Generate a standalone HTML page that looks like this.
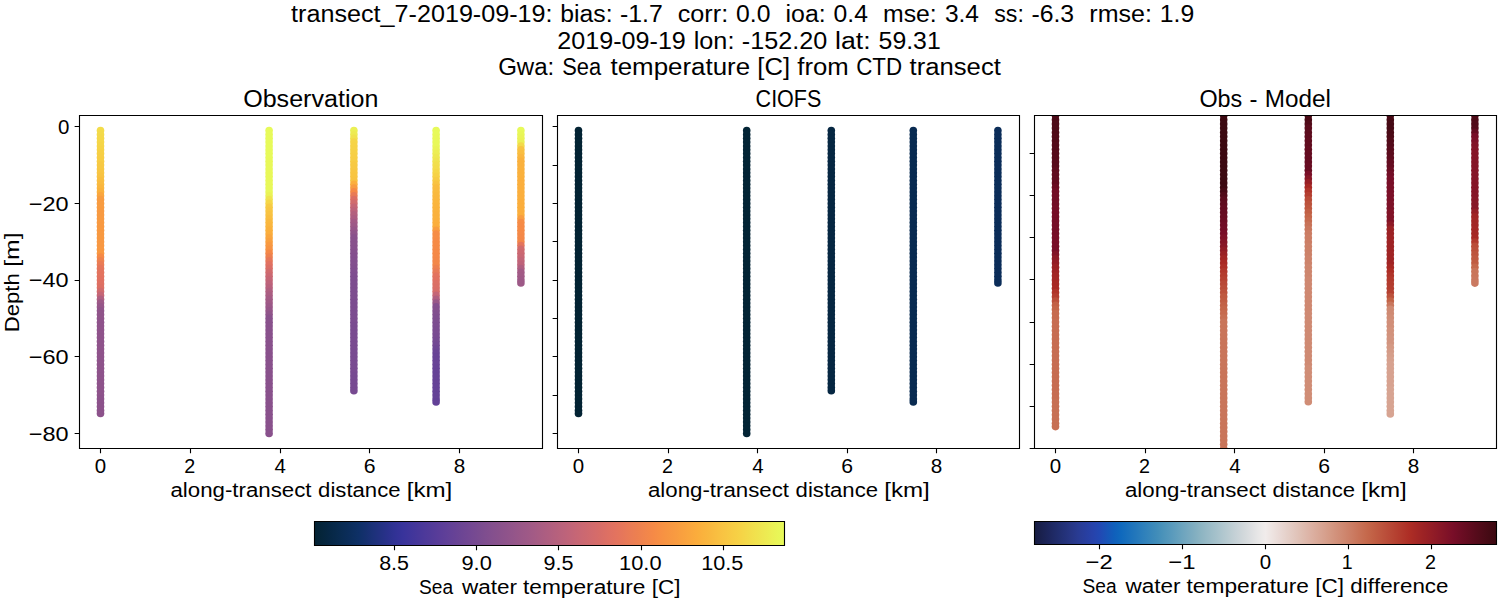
<!DOCTYPE html>
<html><head><meta charset="utf-8"><title>transect plot</title>
<style>html,body{margin:0;padding:0;background:#fff;overflow:hidden;width:1500px;height:600px;}svg{display:block;}</style>
</head><body>
<svg width="1500" height="600" viewBox="0 0 1500 600">
<rect width="1500" height="600" fill="#fff"/>
<defs>
<clipPath id="c0"><rect x="79.5" y="115.5" width="463.0" height="333.0"/></clipPath>
<clipPath id="c1"><rect x="557.5" y="115.5" width="462.0" height="333.0"/></clipPath>
<clipPath id="c2"><rect x="1034.5" y="115.5" width="462.0" height="333.0"/></clipPath>
<linearGradient id="g0" x1="0" x2="1" y1="0" y2="0"><stop offset="0.0000" stop-color="#032333"/><stop offset="0.0156" stop-color="#05253b"/><stop offset="0.0312" stop-color="#062744"/><stop offset="0.0469" stop-color="#082a4c"/><stop offset="0.0625" stop-color="#0a2c55"/><stop offset="0.0781" stop-color="#0c2e5d"/><stop offset="0.0938" stop-color="#0e3066"/><stop offset="0.1094" stop-color="#15306f"/><stop offset="0.1250" stop-color="#1c3179"/><stop offset="0.1406" stop-color="#233182"/><stop offset="0.1562" stop-color="#2a318c"/><stop offset="0.1719" stop-color="#313295"/><stop offset="0.1875" stop-color="#38339b"/><stop offset="0.2031" stop-color="#3f359b"/><stop offset="0.2188" stop-color="#46379a"/><stop offset="0.2344" stop-color="#4d399a"/><stop offset="0.2500" stop-color="#533b99"/><stop offset="0.2656" stop-color="#5a3d99"/><stop offset="0.2812" stop-color="#604098"/><stop offset="0.2969" stop-color="#664296"/><stop offset="0.3125" stop-color="#6c4594"/><stop offset="0.3281" stop-color="#724793"/><stop offset="0.3438" stop-color="#774a91"/><stop offset="0.3594" stop-color="#7d4d8f"/><stop offset="0.3750" stop-color="#834f8e"/><stop offset="0.3906" stop-color="#88518c"/><stop offset="0.4062" stop-color="#8e538b"/><stop offset="0.4219" stop-color="#93558a"/><stop offset="0.4375" stop-color="#995788"/><stop offset="0.4531" stop-color="#9e5987"/><stop offset="0.4688" stop-color="#a45b85"/><stop offset="0.4844" stop-color="#aa5d82"/><stop offset="0.5000" stop-color="#b05f80"/><stop offset="0.5156" stop-color="#b6617d"/><stop offset="0.5312" stop-color="#bc637b"/><stop offset="0.5469" stop-color="#c26578"/><stop offset="0.5625" stop-color="#c86774"/><stop offset="0.5781" stop-color="#cd6970"/><stop offset="0.5938" stop-color="#d36b6c"/><stop offset="0.6094" stop-color="#d86d67"/><stop offset="0.6250" stop-color="#de7063"/><stop offset="0.6406" stop-color="#e3735f"/><stop offset="0.6562" stop-color="#e6775a"/><stop offset="0.6719" stop-color="#ea7c55"/><stop offset="0.6875" stop-color="#ed8050"/><stop offset="0.7031" stop-color="#f1854c"/><stop offset="0.7188" stop-color="#f58947"/><stop offset="0.7344" stop-color="#f78f44"/><stop offset="0.7500" stop-color="#f79542"/><stop offset="0.7656" stop-color="#f89a41"/><stop offset="0.7812" stop-color="#f9a03f"/><stop offset="0.7969" stop-color="#faa63e"/><stop offset="0.8125" stop-color="#fbac3c"/><stop offset="0.8281" stop-color="#fab33d"/><stop offset="0.8438" stop-color="#f9b93f"/><stop offset="0.8594" stop-color="#f9c041"/><stop offset="0.8750" stop-color="#f8c643"/><stop offset="0.8906" stop-color="#f7cd44"/><stop offset="0.9062" stop-color="#f6d346"/><stop offset="0.9219" stop-color="#f3da4a"/><stop offset="0.9375" stop-color="#f1e14d"/><stop offset="0.9531" stop-color="#eee751"/><stop offset="0.9688" stop-color="#ecee54"/><stop offset="0.9844" stop-color="#e9f557"/><stop offset="1.0000" stop-color="#e7fa5a"/></linearGradient>
<linearGradient id="g1" x1="0" x2="1" y1="0" y2="0"><stop offset="0.0000" stop-color="#171c42"/><stop offset="0.0156" stop-color="#1a214f"/><stop offset="0.0312" stop-color="#1d265d"/><stop offset="0.0469" stop-color="#202c6a"/><stop offset="0.0625" stop-color="#233177"/><stop offset="0.0781" stop-color="#273684"/><stop offset="0.0938" stop-color="#293b92"/><stop offset="0.1094" stop-color="#283e9e"/><stop offset="0.1250" stop-color="#2742aa"/><stop offset="0.1406" stop-color="#2248b3"/><stop offset="0.1562" stop-color="#1954b7"/><stop offset="0.1719" stop-color="#105fbb"/><stop offset="0.1875" stop-color="#0f69bd"/><stop offset="0.2031" stop-color="#1970bc"/><stop offset="0.2188" stop-color="#2377bb"/><stop offset="0.2344" stop-color="#2d7fbb"/><stop offset="0.2500" stop-color="#3786ba"/><stop offset="0.2656" stop-color="#418db9"/><stop offset="0.2812" stop-color="#4d94ba"/><stop offset="0.2969" stop-color="#599abc"/><stop offset="0.3125" stop-color="#66a1bd"/><stop offset="0.3281" stop-color="#73a7bf"/><stop offset="0.3438" stop-color="#7fadc0"/><stop offset="0.3594" stop-color="#8cb4c2"/><stop offset="0.3750" stop-color="#98bac6"/><stop offset="0.3906" stop-color="#a3c0ca"/><stop offset="0.4062" stop-color="#afc6ce"/><stop offset="0.4219" stop-color="#bbccd2"/><stop offset="0.4375" stop-color="#c7d2d7"/><stop offset="0.4531" stop-color="#d2d8db"/><stop offset="0.4688" stop-color="#dddfe1"/><stop offset="0.4844" stop-color="#e8e7e7"/><stop offset="0.5000" stop-color="#f1eceb"/><stop offset="0.5156" stop-color="#ede3e0"/><stop offset="0.5312" stop-color="#e9d9d5"/><stop offset="0.5469" stop-color="#e5d0c9"/><stop offset="0.5625" stop-color="#e2c7be"/><stop offset="0.5781" stop-color="#dfbeb2"/><stop offset="0.5938" stop-color="#ddb4a7"/><stop offset="0.6094" stop-color="#daab9b"/><stop offset="0.6250" stop-color="#d7a290"/><stop offset="0.6406" stop-color="#d49984"/><stop offset="0.6562" stop-color="#d18f79"/><stop offset="0.6719" stop-color="#ce866e"/><stop offset="0.6875" stop-color="#cb7c63"/><stop offset="0.7031" stop-color="#c87257"/><stop offset="0.7188" stop-color="#c5694c"/><stop offset="0.7344" stop-color="#c15f44"/><stop offset="0.7500" stop-color="#bd553e"/><stop offset="0.7656" stop-color="#b94b38"/><stop offset="0.7812" stop-color="#b54131"/><stop offset="0.7969" stop-color="#b1372b"/><stop offset="0.8125" stop-color="#ad2d25"/><stop offset="0.8281" stop-color="#a42725"/><stop offset="0.8438" stop-color="#9b2225"/><stop offset="0.8594" stop-color="#931d26"/><stop offset="0.8750" stop-color="#8a1827"/><stop offset="0.8906" stop-color="#811327"/><stop offset="0.9062" stop-color="#780e28"/><stop offset="0.9219" stop-color="#6d0d24"/><stop offset="0.9375" stop-color="#630c20"/><stop offset="0.9531" stop-color="#580b1c"/><stop offset="0.9688" stop-color="#4e0b18"/><stop offset="0.9844" stop-color="#440a14"/><stop offset="1.0000" stop-color="#3c0911"/></linearGradient>
</defs>
<g clip-path="url(#c0)">
<circle cx="100.5" cy="130.6" r="3.8" fill="#f3dc4a"/>
<circle cx="100.5" cy="134.5" r="3.8" fill="#f3da4a"/>
<circle cx="100.5" cy="138.3" r="3.8" fill="#f4d849"/>
<circle cx="100.5" cy="142.1" r="3.8" fill="#f5d748"/>
<circle cx="100.5" cy="146.0" r="3.8" fill="#f5d547"/>
<circle cx="100.5" cy="149.8" r="3.8" fill="#f6d346"/>
<circle cx="100.5" cy="153.6" r="3.8" fill="#f6d045"/>
<circle cx="100.5" cy="157.5" r="3.8" fill="#f7ce45"/>
<circle cx="100.5" cy="161.3" r="3.8" fill="#f7cd44"/>
<circle cx="100.5" cy="165.1" r="3.8" fill="#f7c943"/>
<circle cx="100.5" cy="169.0" r="3.8" fill="#f7c843"/>
<circle cx="100.5" cy="172.8" r="3.8" fill="#f8c643"/>
<circle cx="100.5" cy="176.6" r="3.8" fill="#f8c342"/>
<circle cx="100.5" cy="180.5" r="3.8" fill="#f9be40"/>
<circle cx="100.5" cy="184.3" r="3.8" fill="#f9bb40"/>
<circle cx="100.5" cy="188.1" r="3.8" fill="#fab63e"/>
<circle cx="100.5" cy="191.9" r="3.8" fill="#fab13d"/>
<circle cx="100.5" cy="195.8" r="3.8" fill="#faa63e"/>
<circle cx="100.5" cy="199.6" r="3.8" fill="#f89c41"/>
<circle cx="100.5" cy="203.4" r="3.8" fill="#f89c41"/>
<circle cx="100.5" cy="207.3" r="3.8" fill="#f89c41"/>
<circle cx="100.5" cy="211.1" r="3.8" fill="#f89a41"/>
<circle cx="100.5" cy="214.9" r="3.8" fill="#f89a41"/>
<circle cx="100.5" cy="218.8" r="3.8" fill="#f89a41"/>
<circle cx="100.5" cy="222.6" r="3.8" fill="#f89a41"/>
<circle cx="100.5" cy="226.4" r="3.8" fill="#f89941"/>
<circle cx="100.5" cy="230.3" r="3.8" fill="#f89941"/>
<circle cx="100.5" cy="234.1" r="3.8" fill="#f89941"/>
<circle cx="100.5" cy="237.9" r="3.8" fill="#f89941"/>
<circle cx="100.5" cy="241.8" r="3.8" fill="#f89842"/>
<circle cx="100.5" cy="245.6" r="3.8" fill="#f89842"/>
<circle cx="100.5" cy="249.4" r="3.8" fill="#f89842"/>
<circle cx="100.5" cy="253.3" r="3.8" fill="#f89842"/>
<circle cx="100.5" cy="257.1" r="3.8" fill="#f68a46"/>
<circle cx="100.5" cy="260.9" r="3.8" fill="#ee824f"/>
<circle cx="100.5" cy="264.8" r="3.8" fill="#ea7c55"/>
<circle cx="100.5" cy="268.6" r="3.8" fill="#e5765b"/>
<circle cx="100.5" cy="272.4" r="3.8" fill="#e3745e"/>
<circle cx="100.5" cy="276.3" r="3.8" fill="#e3735f"/>
<circle cx="100.5" cy="280.1" r="3.8" fill="#e17161"/>
<circle cx="100.5" cy="283.9" r="3.8" fill="#df7062"/>
<circle cx="100.5" cy="287.7" r="3.8" fill="#dc6f64"/>
<circle cx="100.5" cy="291.6" r="3.8" fill="#d16b6d"/>
<circle cx="100.5" cy="295.4" r="3.8" fill="#c56676"/>
<circle cx="100.5" cy="299.2" r="3.8" fill="#b05f80"/>
<circle cx="100.5" cy="303.1" r="3.8" fill="#9d5987"/>
<circle cx="100.5" cy="306.9" r="3.8" fill="#965689"/>
<circle cx="100.5" cy="310.7" r="3.8" fill="#90548a"/>
<circle cx="100.5" cy="314.6" r="3.8" fill="#90548a"/>
<circle cx="100.5" cy="318.4" r="3.8" fill="#90548a"/>
<circle cx="100.5" cy="322.2" r="3.8" fill="#8f538b"/>
<circle cx="100.5" cy="326.1" r="3.8" fill="#8f538b"/>
<circle cx="100.5" cy="329.9" r="3.8" fill="#8f538b"/>
<circle cx="100.5" cy="333.7" r="3.8" fill="#8f538b"/>
<circle cx="100.5" cy="337.6" r="3.8" fill="#8f538b"/>
<circle cx="100.5" cy="341.4" r="3.8" fill="#8f538b"/>
<circle cx="100.5" cy="345.2" r="3.8" fill="#8f538b"/>
<circle cx="100.5" cy="349.1" r="3.8" fill="#8f538b"/>
<circle cx="100.5" cy="352.9" r="3.8" fill="#8f538b"/>
<circle cx="100.5" cy="356.7" r="3.8" fill="#8f538b"/>
<circle cx="100.5" cy="360.6" r="3.8" fill="#8e538b"/>
<circle cx="100.5" cy="364.4" r="3.8" fill="#8e538b"/>
<circle cx="100.5" cy="368.2" r="3.8" fill="#8e538b"/>
<circle cx="100.5" cy="372.1" r="3.8" fill="#8e538b"/>
<circle cx="100.5" cy="375.9" r="3.8" fill="#8e538b"/>
<circle cx="100.5" cy="379.7" r="3.8" fill="#8e538b"/>
<circle cx="100.5" cy="383.5" r="3.8" fill="#8e538b"/>
<circle cx="100.5" cy="387.4" r="3.8" fill="#8e538b"/>
<circle cx="100.5" cy="391.2" r="3.8" fill="#8e538b"/>
<circle cx="100.5" cy="395.0" r="3.8" fill="#8e538b"/>
<circle cx="100.5" cy="398.9" r="3.8" fill="#8c528b"/>
<circle cx="100.5" cy="402.7" r="3.8" fill="#8c528b"/>
<circle cx="100.5" cy="406.5" r="3.8" fill="#8c528b"/>
<circle cx="100.5" cy="410.4" r="3.8" fill="#8c528b"/>
<circle cx="100.5" cy="413.4" r="3.8" fill="#8c528b"/>
<circle cx="269.1" cy="130.6" r="3.8" fill="#e7fa5a"/>
<circle cx="269.1" cy="134.5" r="3.8" fill="#e7fa5a"/>
<circle cx="269.1" cy="138.3" r="3.8" fill="#e7fa5a"/>
<circle cx="269.1" cy="142.1" r="3.8" fill="#e7fa5a"/>
<circle cx="269.1" cy="146.0" r="3.8" fill="#e7fa5a"/>
<circle cx="269.1" cy="149.8" r="3.8" fill="#e7fa5a"/>
<circle cx="269.1" cy="153.6" r="3.8" fill="#e7fa5a"/>
<circle cx="269.1" cy="157.5" r="3.8" fill="#e7fa5a"/>
<circle cx="269.1" cy="161.3" r="3.8" fill="#e8f859"/>
<circle cx="269.1" cy="165.1" r="3.8" fill="#e8f859"/>
<circle cx="269.1" cy="169.0" r="3.8" fill="#e8f859"/>
<circle cx="269.1" cy="172.8" r="3.8" fill="#e8f859"/>
<circle cx="269.1" cy="176.6" r="3.8" fill="#e8f859"/>
<circle cx="269.1" cy="180.5" r="3.8" fill="#e8f859"/>
<circle cx="269.1" cy="184.3" r="3.8" fill="#e8f859"/>
<circle cx="269.1" cy="188.1" r="3.8" fill="#e8f859"/>
<circle cx="269.1" cy="191.9" r="3.8" fill="#e8f859"/>
<circle cx="269.1" cy="195.8" r="3.8" fill="#eaf256"/>
<circle cx="269.1" cy="199.6" r="3.8" fill="#efe44f"/>
<circle cx="269.1" cy="203.4" r="3.8" fill="#f5d748"/>
<circle cx="269.1" cy="207.3" r="3.8" fill="#f7cb44"/>
<circle cx="269.1" cy="211.1" r="3.8" fill="#f8c643"/>
<circle cx="269.1" cy="214.9" r="3.8" fill="#f8c342"/>
<circle cx="269.1" cy="218.8" r="3.8" fill="#f9be40"/>
<circle cx="269.1" cy="222.6" r="3.8" fill="#f9b93f"/>
<circle cx="269.1" cy="226.4" r="3.8" fill="#fab63e"/>
<circle cx="269.1" cy="230.3" r="3.8" fill="#fab13d"/>
<circle cx="269.1" cy="234.1" r="3.8" fill="#fbae3c"/>
<circle cx="269.1" cy="237.9" r="3.8" fill="#faa63e"/>
<circle cx="269.1" cy="241.8" r="3.8" fill="#f9a03f"/>
<circle cx="269.1" cy="245.6" r="3.8" fill="#f89941"/>
<circle cx="269.1" cy="249.4" r="3.8" fill="#f79343"/>
<circle cx="269.1" cy="253.3" r="3.8" fill="#f48848"/>
<circle cx="269.1" cy="257.1" r="3.8" fill="#ed8050"/>
<circle cx="269.1" cy="260.9" r="3.8" fill="#e6775a"/>
<circle cx="269.1" cy="264.8" r="3.8" fill="#e17161"/>
<circle cx="269.1" cy="268.6" r="3.8" fill="#da6e66"/>
<circle cx="269.1" cy="272.4" r="3.8" fill="#d16b6d"/>
<circle cx="269.1" cy="276.3" r="3.8" fill="#cb6872"/>
<circle cx="269.1" cy="280.1" r="3.8" fill="#c56676"/>
<circle cx="269.1" cy="283.9" r="3.8" fill="#be637a"/>
<circle cx="269.1" cy="287.7" r="3.8" fill="#b8617d"/>
<circle cx="269.1" cy="291.6" r="3.8" fill="#b05f80"/>
<circle cx="269.1" cy="295.4" r="3.8" fill="#aa5d82"/>
<circle cx="269.1" cy="299.2" r="3.8" fill="#a45b85"/>
<circle cx="269.1" cy="303.1" r="3.8" fill="#a05a86"/>
<circle cx="269.1" cy="306.9" r="3.8" fill="#9b5888"/>
<circle cx="269.1" cy="310.7" r="3.8" fill="#965689"/>
<circle cx="269.1" cy="314.6" r="3.8" fill="#90548a"/>
<circle cx="269.1" cy="318.4" r="3.8" fill="#89518c"/>
<circle cx="269.1" cy="322.2" r="3.8" fill="#89518c"/>
<circle cx="269.1" cy="326.1" r="3.8" fill="#89518c"/>
<circle cx="269.1" cy="329.9" r="3.8" fill="#89518c"/>
<circle cx="269.1" cy="333.7" r="3.8" fill="#89518c"/>
<circle cx="269.1" cy="337.6" r="3.8" fill="#89518c"/>
<circle cx="269.1" cy="341.4" r="3.8" fill="#89518c"/>
<circle cx="269.1" cy="345.2" r="3.8" fill="#89518c"/>
<circle cx="269.1" cy="349.1" r="3.8" fill="#89518c"/>
<circle cx="269.1" cy="352.9" r="3.8" fill="#89518c"/>
<circle cx="269.1" cy="356.7" r="3.8" fill="#89518c"/>
<circle cx="269.1" cy="360.6" r="3.8" fill="#89518c"/>
<circle cx="269.1" cy="364.4" r="3.8" fill="#89518c"/>
<circle cx="269.1" cy="368.2" r="3.8" fill="#89518c"/>
<circle cx="269.1" cy="372.1" r="3.8" fill="#89518c"/>
<circle cx="269.1" cy="375.9" r="3.8" fill="#89518c"/>
<circle cx="269.1" cy="379.7" r="3.8" fill="#89518c"/>
<circle cx="269.1" cy="383.5" r="3.8" fill="#89518c"/>
<circle cx="269.1" cy="387.4" r="3.8" fill="#89518c"/>
<circle cx="269.1" cy="391.2" r="3.8" fill="#89518c"/>
<circle cx="269.1" cy="395.0" r="3.8" fill="#89518c"/>
<circle cx="269.1" cy="398.9" r="3.8" fill="#89518c"/>
<circle cx="269.1" cy="402.7" r="3.8" fill="#89518c"/>
<circle cx="269.1" cy="406.5" r="3.8" fill="#89518c"/>
<circle cx="269.1" cy="410.4" r="3.8" fill="#89518c"/>
<circle cx="269.1" cy="414.2" r="3.8" fill="#89518c"/>
<circle cx="269.1" cy="418.0" r="3.8" fill="#89518c"/>
<circle cx="269.1" cy="421.9" r="3.8" fill="#89518c"/>
<circle cx="269.1" cy="425.7" r="3.8" fill="#89518c"/>
<circle cx="269.1" cy="429.5" r="3.8" fill="#89518c"/>
<circle cx="269.1" cy="433.4" r="3.8" fill="#89518c"/>
<circle cx="353.9" cy="130.6" r="3.8" fill="#ebf055"/>
<circle cx="353.9" cy="134.5" r="3.8" fill="#edeb52"/>
<circle cx="353.9" cy="138.3" r="3.8" fill="#f0e24e"/>
<circle cx="353.9" cy="142.1" r="3.8" fill="#f5d547"/>
<circle cx="353.9" cy="146.0" r="3.8" fill="#f6d346"/>
<circle cx="353.9" cy="149.8" r="3.8" fill="#f6d246"/>
<circle cx="353.9" cy="153.6" r="3.8" fill="#f6d045"/>
<circle cx="353.9" cy="157.5" r="3.8" fill="#f7ce45"/>
<circle cx="353.9" cy="161.3" r="3.8" fill="#f7cd44"/>
<circle cx="353.9" cy="165.1" r="3.8" fill="#f7c943"/>
<circle cx="353.9" cy="169.0" r="3.8" fill="#f7c843"/>
<circle cx="353.9" cy="172.8" r="3.8" fill="#f8c643"/>
<circle cx="353.9" cy="176.6" r="3.8" fill="#f8c542"/>
<circle cx="353.9" cy="180.5" r="3.8" fill="#f8c342"/>
<circle cx="353.9" cy="184.3" r="3.8" fill="#fbaf3d"/>
<circle cx="353.9" cy="188.1" r="3.8" fill="#f89c41"/>
<circle cx="353.9" cy="191.9" r="3.8" fill="#f58947"/>
<circle cx="353.9" cy="195.8" r="3.8" fill="#e97b56"/>
<circle cx="353.9" cy="199.6" r="3.8" fill="#dc6f64"/>
<circle cx="353.9" cy="203.4" r="3.8" fill="#d16b6d"/>
<circle cx="353.9" cy="207.3" r="3.8" fill="#c56676"/>
<circle cx="353.9" cy="211.1" r="3.8" fill="#bc637b"/>
<circle cx="353.9" cy="214.9" r="3.8" fill="#b3607e"/>
<circle cx="353.9" cy="218.8" r="3.8" fill="#ac5d82"/>
<circle cx="353.9" cy="222.6" r="3.8" fill="#a35a85"/>
<circle cx="353.9" cy="226.4" r="3.8" fill="#9d5987"/>
<circle cx="353.9" cy="230.3" r="3.8" fill="#965689"/>
<circle cx="353.9" cy="234.1" r="3.8" fill="#90548a"/>
<circle cx="353.9" cy="237.9" r="3.8" fill="#89518c"/>
<circle cx="353.9" cy="241.8" r="3.8" fill="#88518c"/>
<circle cx="353.9" cy="245.6" r="3.8" fill="#88518c"/>
<circle cx="353.9" cy="249.4" r="3.8" fill="#87508d"/>
<circle cx="353.9" cy="253.3" r="3.8" fill="#85508d"/>
<circle cx="353.9" cy="257.1" r="3.8" fill="#844f8e"/>
<circle cx="353.9" cy="260.9" r="3.8" fill="#834f8e"/>
<circle cx="353.9" cy="264.8" r="3.8" fill="#834f8e"/>
<circle cx="353.9" cy="268.6" r="3.8" fill="#814e8e"/>
<circle cx="353.9" cy="272.4" r="3.8" fill="#804e8f"/>
<circle cx="353.9" cy="276.3" r="3.8" fill="#7e4d8f"/>
<circle cx="353.9" cy="280.1" r="3.8" fill="#7d4d8f"/>
<circle cx="353.9" cy="283.9" r="3.8" fill="#7d4d8f"/>
<circle cx="353.9" cy="287.7" r="3.8" fill="#7d4d8f"/>
<circle cx="353.9" cy="291.6" r="3.8" fill="#7d4d8f"/>
<circle cx="353.9" cy="295.4" r="3.8" fill="#7d4d8f"/>
<circle cx="353.9" cy="299.2" r="3.8" fill="#7d4d8f"/>
<circle cx="353.9" cy="303.1" r="3.8" fill="#7c4c90"/>
<circle cx="353.9" cy="306.9" r="3.8" fill="#7c4c90"/>
<circle cx="353.9" cy="310.7" r="3.8" fill="#7c4c90"/>
<circle cx="353.9" cy="314.6" r="3.8" fill="#7c4c90"/>
<circle cx="353.9" cy="318.4" r="3.8" fill="#7c4c90"/>
<circle cx="353.9" cy="322.2" r="3.8" fill="#7c4c90"/>
<circle cx="353.9" cy="326.1" r="3.8" fill="#7a4b90"/>
<circle cx="353.9" cy="329.9" r="3.8" fill="#7a4b90"/>
<circle cx="353.9" cy="333.7" r="3.8" fill="#7a4b90"/>
<circle cx="353.9" cy="337.6" r="3.8" fill="#7a4b90"/>
<circle cx="353.9" cy="341.4" r="3.8" fill="#7a4b90"/>
<circle cx="353.9" cy="345.2" r="3.8" fill="#7a4b90"/>
<circle cx="353.9" cy="349.1" r="3.8" fill="#7a4b90"/>
<circle cx="353.9" cy="352.9" r="3.8" fill="#794b91"/>
<circle cx="353.9" cy="356.7" r="3.8" fill="#794b91"/>
<circle cx="353.9" cy="360.6" r="3.8" fill="#794b91"/>
<circle cx="353.9" cy="364.4" r="3.8" fill="#794b91"/>
<circle cx="353.9" cy="368.2" r="3.8" fill="#794b91"/>
<circle cx="353.9" cy="372.1" r="3.8" fill="#794b91"/>
<circle cx="353.9" cy="375.9" r="3.8" fill="#774a91"/>
<circle cx="353.9" cy="379.7" r="3.8" fill="#774a91"/>
<circle cx="353.9" cy="383.5" r="3.8" fill="#774a91"/>
<circle cx="353.9" cy="387.4" r="3.8" fill="#774a91"/>
<circle cx="353.9" cy="390.8" r="3.8" fill="#774a91"/>
<circle cx="436.1" cy="130.6" r="3.8" fill="#e7fa5a"/>
<circle cx="436.1" cy="134.5" r="3.8" fill="#e7fa5a"/>
<circle cx="436.1" cy="138.3" r="3.8" fill="#e8f859"/>
<circle cx="436.1" cy="142.1" r="3.8" fill="#e8f859"/>
<circle cx="436.1" cy="146.0" r="3.8" fill="#e8f859"/>
<circle cx="436.1" cy="149.8" r="3.8" fill="#eaf357"/>
<circle cx="436.1" cy="153.6" r="3.8" fill="#ecee54"/>
<circle cx="436.1" cy="157.5" r="3.8" fill="#ede951"/>
<circle cx="436.1" cy="161.3" r="3.8" fill="#efe44f"/>
<circle cx="436.1" cy="165.1" r="3.8" fill="#f1df4c"/>
<circle cx="436.1" cy="169.0" r="3.8" fill="#f3dc4a"/>
<circle cx="436.1" cy="172.8" r="3.8" fill="#f5d748"/>
<circle cx="436.1" cy="176.6" r="3.8" fill="#f6d246"/>
<circle cx="436.1" cy="180.5" r="3.8" fill="#f7cb44"/>
<circle cx="436.1" cy="184.3" r="3.8" fill="#f8c342"/>
<circle cx="436.1" cy="188.1" r="3.8" fill="#f9bc40"/>
<circle cx="436.1" cy="191.9" r="3.8" fill="#f9bb40"/>
<circle cx="436.1" cy="195.8" r="3.8" fill="#f9b93f"/>
<circle cx="436.1" cy="199.6" r="3.8" fill="#fab73f"/>
<circle cx="436.1" cy="203.4" r="3.8" fill="#fab63e"/>
<circle cx="436.1" cy="207.3" r="3.8" fill="#fab43e"/>
<circle cx="436.1" cy="211.1" r="3.8" fill="#fab33d"/>
<circle cx="436.1" cy="214.9" r="3.8" fill="#fab13d"/>
<circle cx="436.1" cy="218.8" r="3.8" fill="#fab13d"/>
<circle cx="436.1" cy="222.6" r="3.8" fill="#fbaf3d"/>
<circle cx="436.1" cy="226.4" r="3.8" fill="#fbae3c"/>
<circle cx="436.1" cy="230.3" r="3.8" fill="#f99d40"/>
<circle cx="436.1" cy="234.1" r="3.8" fill="#f68c45"/>
<circle cx="436.1" cy="237.9" r="3.8" fill="#f68c45"/>
<circle cx="436.1" cy="241.8" r="3.8" fill="#f68a46"/>
<circle cx="436.1" cy="245.6" r="3.8" fill="#f68a46"/>
<circle cx="436.1" cy="249.4" r="3.8" fill="#f58947"/>
<circle cx="436.1" cy="253.3" r="3.8" fill="#f58947"/>
<circle cx="436.1" cy="257.1" r="3.8" fill="#f48848"/>
<circle cx="436.1" cy="260.9" r="3.8" fill="#f38749"/>
<circle cx="436.1" cy="264.8" r="3.8" fill="#f38749"/>
<circle cx="436.1" cy="268.6" r="3.8" fill="#ed8050"/>
<circle cx="436.1" cy="272.4" r="3.8" fill="#e87a58"/>
<circle cx="436.1" cy="276.3" r="3.8" fill="#e3735f"/>
<circle cx="436.1" cy="280.1" r="3.8" fill="#e17161"/>
<circle cx="436.1" cy="283.9" r="3.8" fill="#dc6f64"/>
<circle cx="436.1" cy="287.7" r="3.8" fill="#da6e66"/>
<circle cx="436.1" cy="291.6" r="3.8" fill="#d76d69"/>
<circle cx="436.1" cy="295.4" r="3.8" fill="#c56676"/>
<circle cx="436.1" cy="299.2" r="3.8" fill="#b05f80"/>
<circle cx="436.1" cy="303.1" r="3.8" fill="#995788"/>
<circle cx="436.1" cy="306.9" r="3.8" fill="#844f8e"/>
<circle cx="436.1" cy="310.7" r="3.8" fill="#834f8e"/>
<circle cx="436.1" cy="314.6" r="3.8" fill="#814e8e"/>
<circle cx="436.1" cy="318.4" r="3.8" fill="#7e4d8f"/>
<circle cx="436.1" cy="322.2" r="3.8" fill="#7d4d8f"/>
<circle cx="436.1" cy="326.1" r="3.8" fill="#7c4c90"/>
<circle cx="436.1" cy="329.9" r="3.8" fill="#7a4b90"/>
<circle cx="436.1" cy="333.7" r="3.8" fill="#794b91"/>
<circle cx="436.1" cy="337.6" r="3.8" fill="#774a91"/>
<circle cx="436.1" cy="341.4" r="3.8" fill="#744992"/>
<circle cx="436.1" cy="345.2" r="3.8" fill="#724793"/>
<circle cx="436.1" cy="349.1" r="3.8" fill="#6d4594"/>
<circle cx="436.1" cy="352.9" r="3.8" fill="#6a4495"/>
<circle cx="436.1" cy="356.7" r="3.8" fill="#684396"/>
<circle cx="436.1" cy="360.6" r="3.8" fill="#684396"/>
<circle cx="436.1" cy="364.4" r="3.8" fill="#684396"/>
<circle cx="436.1" cy="368.2" r="3.8" fill="#664296"/>
<circle cx="436.1" cy="372.1" r="3.8" fill="#664296"/>
<circle cx="436.1" cy="375.9" r="3.8" fill="#664296"/>
<circle cx="436.1" cy="379.7" r="3.8" fill="#664296"/>
<circle cx="436.1" cy="383.5" r="3.8" fill="#664296"/>
<circle cx="436.1" cy="387.4" r="3.8" fill="#654297"/>
<circle cx="436.1" cy="391.2" r="3.8" fill="#654297"/>
<circle cx="436.1" cy="395.0" r="3.8" fill="#654297"/>
<circle cx="436.1" cy="398.9" r="3.8" fill="#654297"/>
<circle cx="436.1" cy="401.9" r="3.8" fill="#634197"/>
<circle cx="520.9" cy="130.6" r="3.8" fill="#e7fa5a"/>
<circle cx="520.9" cy="134.5" r="3.8" fill="#e8f758"/>
<circle cx="520.9" cy="138.3" r="3.8" fill="#eaf357"/>
<circle cx="520.9" cy="142.1" r="3.8" fill="#ebf055"/>
<circle cx="520.9" cy="146.0" r="3.8" fill="#f3da4a"/>
<circle cx="520.9" cy="149.8" r="3.8" fill="#f8c342"/>
<circle cx="520.9" cy="153.6" r="3.8" fill="#f9be40"/>
<circle cx="520.9" cy="157.5" r="3.8" fill="#fab73f"/>
<circle cx="520.9" cy="161.3" r="3.8" fill="#fab13d"/>
<circle cx="520.9" cy="165.1" r="3.8" fill="#fab13d"/>
<circle cx="520.9" cy="169.0" r="3.8" fill="#fab13d"/>
<circle cx="520.9" cy="172.8" r="3.8" fill="#fab13d"/>
<circle cx="520.9" cy="176.6" r="3.8" fill="#fab13d"/>
<circle cx="520.9" cy="180.5" r="3.8" fill="#fbaf3d"/>
<circle cx="520.9" cy="184.3" r="3.8" fill="#fbaf3d"/>
<circle cx="520.9" cy="188.1" r="3.8" fill="#fbaf3d"/>
<circle cx="520.9" cy="191.9" r="3.8" fill="#fbaf3d"/>
<circle cx="520.9" cy="195.8" r="3.8" fill="#fbaf3d"/>
<circle cx="520.9" cy="199.6" r="3.8" fill="#fbaf3d"/>
<circle cx="520.9" cy="203.4" r="3.8" fill="#fbae3c"/>
<circle cx="520.9" cy="207.3" r="3.8" fill="#fbae3c"/>
<circle cx="520.9" cy="211.1" r="3.8" fill="#fbae3c"/>
<circle cx="520.9" cy="214.9" r="3.8" fill="#fbae3c"/>
<circle cx="520.9" cy="218.8" r="3.8" fill="#f99d40"/>
<circle cx="520.9" cy="222.6" r="3.8" fill="#f68c45"/>
<circle cx="520.9" cy="226.4" r="3.8" fill="#f68a46"/>
<circle cx="520.9" cy="230.3" r="3.8" fill="#f68a46"/>
<circle cx="520.9" cy="234.1" r="3.8" fill="#f58947"/>
<circle cx="520.9" cy="237.9" r="3.8" fill="#f48848"/>
<circle cx="520.9" cy="241.8" r="3.8" fill="#f38749"/>
<circle cx="520.9" cy="245.6" r="3.8" fill="#e4755c"/>
<circle cx="520.9" cy="249.4" r="3.8" fill="#d16b6d"/>
<circle cx="520.9" cy="253.3" r="3.8" fill="#cc6871"/>
<circle cx="520.9" cy="257.1" r="3.8" fill="#c86774"/>
<circle cx="520.9" cy="260.9" r="3.8" fill="#c26578"/>
<circle cx="520.9" cy="264.8" r="3.8" fill="#be637a"/>
<circle cx="520.9" cy="268.6" r="3.8" fill="#b05f80"/>
<circle cx="520.9" cy="272.4" r="3.8" fill="#a35a85"/>
<circle cx="520.9" cy="276.3" r="3.8" fill="#a15a86"/>
<circle cx="520.9" cy="280.1" r="3.8" fill="#9e5987"/>
<circle cx="520.9" cy="283.0" r="3.8" fill="#9d5987"/>
</g>
<g clip-path="url(#c1)">
<circle cx="578.5" cy="130.6" r="3.8" fill="#032333"/>
<circle cx="578.5" cy="134.5" r="3.8" fill="#032333"/>
<circle cx="578.5" cy="138.3" r="3.8" fill="#032333"/>
<circle cx="578.5" cy="142.1" r="3.8" fill="#032333"/>
<circle cx="578.5" cy="146.0" r="3.8" fill="#032333"/>
<circle cx="578.5" cy="149.8" r="3.8" fill="#032333"/>
<circle cx="578.5" cy="153.6" r="3.8" fill="#032333"/>
<circle cx="578.5" cy="157.5" r="3.8" fill="#032333"/>
<circle cx="578.5" cy="161.3" r="3.8" fill="#032333"/>
<circle cx="578.5" cy="165.1" r="3.8" fill="#032333"/>
<circle cx="578.5" cy="169.0" r="3.8" fill="#032333"/>
<circle cx="578.5" cy="172.8" r="3.8" fill="#032333"/>
<circle cx="578.5" cy="176.6" r="3.8" fill="#032333"/>
<circle cx="578.5" cy="180.5" r="3.8" fill="#032333"/>
<circle cx="578.5" cy="184.3" r="3.8" fill="#032333"/>
<circle cx="578.5" cy="188.1" r="3.8" fill="#032333"/>
<circle cx="578.5" cy="191.9" r="3.8" fill="#032333"/>
<circle cx="578.5" cy="195.8" r="3.8" fill="#032333"/>
<circle cx="578.5" cy="199.6" r="3.8" fill="#032333"/>
<circle cx="578.5" cy="203.4" r="3.8" fill="#032333"/>
<circle cx="578.5" cy="207.3" r="3.8" fill="#032333"/>
<circle cx="578.5" cy="211.1" r="3.8" fill="#032333"/>
<circle cx="578.5" cy="214.9" r="3.8" fill="#032333"/>
<circle cx="578.5" cy="218.8" r="3.8" fill="#032333"/>
<circle cx="578.5" cy="222.6" r="3.8" fill="#032333"/>
<circle cx="578.5" cy="226.4" r="3.8" fill="#032333"/>
<circle cx="578.5" cy="230.3" r="3.8" fill="#032333"/>
<circle cx="578.5" cy="234.1" r="3.8" fill="#032333"/>
<circle cx="578.5" cy="237.9" r="3.8" fill="#032333"/>
<circle cx="578.5" cy="241.8" r="3.8" fill="#032333"/>
<circle cx="578.5" cy="245.6" r="3.8" fill="#032333"/>
<circle cx="578.5" cy="249.4" r="3.8" fill="#032333"/>
<circle cx="578.5" cy="253.3" r="3.8" fill="#032333"/>
<circle cx="578.5" cy="257.1" r="3.8" fill="#032333"/>
<circle cx="578.5" cy="260.9" r="3.8" fill="#032333"/>
<circle cx="578.5" cy="264.8" r="3.8" fill="#032333"/>
<circle cx="578.5" cy="268.6" r="3.8" fill="#032333"/>
<circle cx="578.5" cy="272.4" r="3.8" fill="#032333"/>
<circle cx="578.5" cy="276.3" r="3.8" fill="#032333"/>
<circle cx="578.5" cy="280.1" r="3.8" fill="#032333"/>
<circle cx="578.5" cy="283.9" r="3.8" fill="#032333"/>
<circle cx="578.5" cy="287.7" r="3.8" fill="#032333"/>
<circle cx="578.5" cy="291.6" r="3.8" fill="#032333"/>
<circle cx="578.5" cy="295.4" r="3.8" fill="#032333"/>
<circle cx="578.5" cy="299.2" r="3.8" fill="#032333"/>
<circle cx="578.5" cy="303.1" r="3.8" fill="#032333"/>
<circle cx="578.5" cy="306.9" r="3.8" fill="#032333"/>
<circle cx="578.5" cy="310.7" r="3.8" fill="#032333"/>
<circle cx="578.5" cy="314.6" r="3.8" fill="#032333"/>
<circle cx="578.5" cy="318.4" r="3.8" fill="#032333"/>
<circle cx="578.5" cy="322.2" r="3.8" fill="#032333"/>
<circle cx="578.5" cy="326.1" r="3.8" fill="#032333"/>
<circle cx="578.5" cy="329.9" r="3.8" fill="#032333"/>
<circle cx="578.5" cy="333.7" r="3.8" fill="#032333"/>
<circle cx="578.5" cy="337.6" r="3.8" fill="#032333"/>
<circle cx="578.5" cy="341.4" r="3.8" fill="#032333"/>
<circle cx="578.5" cy="345.2" r="3.8" fill="#032333"/>
<circle cx="578.5" cy="349.1" r="3.8" fill="#032333"/>
<circle cx="578.5" cy="352.9" r="3.8" fill="#032333"/>
<circle cx="578.5" cy="356.7" r="3.8" fill="#032333"/>
<circle cx="578.5" cy="360.6" r="3.8" fill="#032333"/>
<circle cx="578.5" cy="364.4" r="3.8" fill="#032333"/>
<circle cx="578.5" cy="368.2" r="3.8" fill="#032333"/>
<circle cx="578.5" cy="372.1" r="3.8" fill="#032333"/>
<circle cx="578.5" cy="375.9" r="3.8" fill="#032333"/>
<circle cx="578.5" cy="379.7" r="3.8" fill="#032333"/>
<circle cx="578.5" cy="383.5" r="3.8" fill="#032333"/>
<circle cx="578.5" cy="387.4" r="3.8" fill="#032333"/>
<circle cx="578.5" cy="391.2" r="3.8" fill="#032333"/>
<circle cx="578.5" cy="395.0" r="3.8" fill="#032333"/>
<circle cx="578.5" cy="398.9" r="3.8" fill="#032333"/>
<circle cx="578.5" cy="402.7" r="3.8" fill="#032333"/>
<circle cx="578.5" cy="406.5" r="3.8" fill="#032333"/>
<circle cx="578.5" cy="410.4" r="3.8" fill="#032333"/>
<circle cx="578.5" cy="413.4" r="3.8" fill="#032333"/>
<circle cx="746.7" cy="130.6" r="3.8" fill="#032435"/>
<circle cx="746.7" cy="134.5" r="3.8" fill="#032435"/>
<circle cx="746.7" cy="138.3" r="3.8" fill="#032435"/>
<circle cx="746.7" cy="142.1" r="3.8" fill="#032435"/>
<circle cx="746.7" cy="146.0" r="3.8" fill="#032435"/>
<circle cx="746.7" cy="149.8" r="3.8" fill="#032435"/>
<circle cx="746.7" cy="153.6" r="3.8" fill="#032435"/>
<circle cx="746.7" cy="157.5" r="3.8" fill="#032435"/>
<circle cx="746.7" cy="161.3" r="3.8" fill="#032435"/>
<circle cx="746.7" cy="165.1" r="3.8" fill="#032435"/>
<circle cx="746.7" cy="169.0" r="3.8" fill="#032435"/>
<circle cx="746.7" cy="172.8" r="3.8" fill="#032435"/>
<circle cx="746.7" cy="176.6" r="3.8" fill="#032435"/>
<circle cx="746.7" cy="180.5" r="3.8" fill="#032435"/>
<circle cx="746.7" cy="184.3" r="3.8" fill="#032435"/>
<circle cx="746.7" cy="188.1" r="3.8" fill="#032435"/>
<circle cx="746.7" cy="191.9" r="3.8" fill="#032435"/>
<circle cx="746.7" cy="195.8" r="3.8" fill="#032435"/>
<circle cx="746.7" cy="199.6" r="3.8" fill="#032435"/>
<circle cx="746.7" cy="203.4" r="3.8" fill="#032435"/>
<circle cx="746.7" cy="207.3" r="3.8" fill="#032435"/>
<circle cx="746.7" cy="211.1" r="3.8" fill="#032435"/>
<circle cx="746.7" cy="214.9" r="3.8" fill="#032435"/>
<circle cx="746.7" cy="218.8" r="3.8" fill="#032435"/>
<circle cx="746.7" cy="222.6" r="3.8" fill="#032435"/>
<circle cx="746.7" cy="226.4" r="3.8" fill="#032435"/>
<circle cx="746.7" cy="230.3" r="3.8" fill="#032435"/>
<circle cx="746.7" cy="234.1" r="3.8" fill="#032435"/>
<circle cx="746.7" cy="237.9" r="3.8" fill="#032435"/>
<circle cx="746.7" cy="241.8" r="3.8" fill="#032435"/>
<circle cx="746.7" cy="245.6" r="3.8" fill="#032435"/>
<circle cx="746.7" cy="249.4" r="3.8" fill="#032435"/>
<circle cx="746.7" cy="253.3" r="3.8" fill="#032435"/>
<circle cx="746.7" cy="257.1" r="3.8" fill="#032435"/>
<circle cx="746.7" cy="260.9" r="3.8" fill="#032435"/>
<circle cx="746.7" cy="264.8" r="3.8" fill="#032435"/>
<circle cx="746.7" cy="268.6" r="3.8" fill="#032435"/>
<circle cx="746.7" cy="272.4" r="3.8" fill="#032435"/>
<circle cx="746.7" cy="276.3" r="3.8" fill="#032435"/>
<circle cx="746.7" cy="280.1" r="3.8" fill="#032435"/>
<circle cx="746.7" cy="283.9" r="3.8" fill="#032435"/>
<circle cx="746.7" cy="287.7" r="3.8" fill="#032435"/>
<circle cx="746.7" cy="291.6" r="3.8" fill="#032435"/>
<circle cx="746.7" cy="295.4" r="3.8" fill="#032435"/>
<circle cx="746.7" cy="299.2" r="3.8" fill="#032435"/>
<circle cx="746.7" cy="303.1" r="3.8" fill="#032435"/>
<circle cx="746.7" cy="306.9" r="3.8" fill="#032435"/>
<circle cx="746.7" cy="310.7" r="3.8" fill="#032435"/>
<circle cx="746.7" cy="314.6" r="3.8" fill="#032435"/>
<circle cx="746.7" cy="318.4" r="3.8" fill="#032435"/>
<circle cx="746.7" cy="322.2" r="3.8" fill="#032435"/>
<circle cx="746.7" cy="326.1" r="3.8" fill="#032435"/>
<circle cx="746.7" cy="329.9" r="3.8" fill="#032435"/>
<circle cx="746.7" cy="333.7" r="3.8" fill="#032435"/>
<circle cx="746.7" cy="337.6" r="3.8" fill="#032435"/>
<circle cx="746.7" cy="341.4" r="3.8" fill="#032435"/>
<circle cx="746.7" cy="345.2" r="3.8" fill="#032435"/>
<circle cx="746.7" cy="349.1" r="3.8" fill="#032435"/>
<circle cx="746.7" cy="352.9" r="3.8" fill="#032435"/>
<circle cx="746.7" cy="356.7" r="3.8" fill="#032435"/>
<circle cx="746.7" cy="360.6" r="3.8" fill="#032435"/>
<circle cx="746.7" cy="364.4" r="3.8" fill="#032435"/>
<circle cx="746.7" cy="368.2" r="3.8" fill="#032435"/>
<circle cx="746.7" cy="372.1" r="3.8" fill="#032435"/>
<circle cx="746.7" cy="375.9" r="3.8" fill="#032435"/>
<circle cx="746.7" cy="379.7" r="3.8" fill="#032435"/>
<circle cx="746.7" cy="383.5" r="3.8" fill="#032435"/>
<circle cx="746.7" cy="387.4" r="3.8" fill="#032435"/>
<circle cx="746.7" cy="391.2" r="3.8" fill="#032435"/>
<circle cx="746.7" cy="395.0" r="3.8" fill="#032435"/>
<circle cx="746.7" cy="398.9" r="3.8" fill="#032435"/>
<circle cx="746.7" cy="402.7" r="3.8" fill="#032435"/>
<circle cx="746.7" cy="406.5" r="3.8" fill="#032435"/>
<circle cx="746.7" cy="410.4" r="3.8" fill="#032435"/>
<circle cx="746.7" cy="414.2" r="3.8" fill="#032435"/>
<circle cx="746.7" cy="418.0" r="3.8" fill="#032435"/>
<circle cx="746.7" cy="421.9" r="3.8" fill="#032435"/>
<circle cx="746.7" cy="425.7" r="3.8" fill="#032435"/>
<circle cx="746.7" cy="429.5" r="3.8" fill="#032435"/>
<circle cx="746.7" cy="433.4" r="3.8" fill="#032435"/>
<circle cx="831.3" cy="130.6" r="3.8" fill="#062742"/>
<circle cx="831.3" cy="134.5" r="3.8" fill="#062742"/>
<circle cx="831.3" cy="138.3" r="3.8" fill="#062742"/>
<circle cx="831.3" cy="142.1" r="3.8" fill="#062742"/>
<circle cx="831.3" cy="146.0" r="3.8" fill="#062742"/>
<circle cx="831.3" cy="149.8" r="3.8" fill="#062742"/>
<circle cx="831.3" cy="153.6" r="3.8" fill="#062742"/>
<circle cx="831.3" cy="157.5" r="3.8" fill="#062742"/>
<circle cx="831.3" cy="161.3" r="3.8" fill="#062742"/>
<circle cx="831.3" cy="165.1" r="3.8" fill="#062742"/>
<circle cx="831.3" cy="169.0" r="3.8" fill="#062742"/>
<circle cx="831.3" cy="172.8" r="3.8" fill="#062742"/>
<circle cx="831.3" cy="176.6" r="3.8" fill="#062742"/>
<circle cx="831.3" cy="180.5" r="3.8" fill="#062742"/>
<circle cx="831.3" cy="184.3" r="3.8" fill="#062742"/>
<circle cx="831.3" cy="188.1" r="3.8" fill="#062742"/>
<circle cx="831.3" cy="191.9" r="3.8" fill="#062742"/>
<circle cx="831.3" cy="195.8" r="3.8" fill="#062742"/>
<circle cx="831.3" cy="199.6" r="3.8" fill="#062742"/>
<circle cx="831.3" cy="203.4" r="3.8" fill="#062742"/>
<circle cx="831.3" cy="207.3" r="3.8" fill="#062742"/>
<circle cx="831.3" cy="211.1" r="3.8" fill="#062742"/>
<circle cx="831.3" cy="214.9" r="3.8" fill="#062742"/>
<circle cx="831.3" cy="218.8" r="3.8" fill="#062742"/>
<circle cx="831.3" cy="222.6" r="3.8" fill="#062742"/>
<circle cx="831.3" cy="226.4" r="3.8" fill="#062742"/>
<circle cx="831.3" cy="230.3" r="3.8" fill="#062742"/>
<circle cx="831.3" cy="234.1" r="3.8" fill="#062742"/>
<circle cx="831.3" cy="237.9" r="3.8" fill="#062742"/>
<circle cx="831.3" cy="241.8" r="3.8" fill="#062742"/>
<circle cx="831.3" cy="245.6" r="3.8" fill="#062742"/>
<circle cx="831.3" cy="249.4" r="3.8" fill="#062742"/>
<circle cx="831.3" cy="253.3" r="3.8" fill="#062742"/>
<circle cx="831.3" cy="257.1" r="3.8" fill="#062742"/>
<circle cx="831.3" cy="260.9" r="3.8" fill="#062742"/>
<circle cx="831.3" cy="264.8" r="3.8" fill="#062742"/>
<circle cx="831.3" cy="268.6" r="3.8" fill="#062742"/>
<circle cx="831.3" cy="272.4" r="3.8" fill="#062742"/>
<circle cx="831.3" cy="276.3" r="3.8" fill="#062742"/>
<circle cx="831.3" cy="280.1" r="3.8" fill="#062742"/>
<circle cx="831.3" cy="283.9" r="3.8" fill="#062742"/>
<circle cx="831.3" cy="287.7" r="3.8" fill="#062742"/>
<circle cx="831.3" cy="291.6" r="3.8" fill="#062742"/>
<circle cx="831.3" cy="295.4" r="3.8" fill="#062742"/>
<circle cx="831.3" cy="299.2" r="3.8" fill="#062742"/>
<circle cx="831.3" cy="303.1" r="3.8" fill="#062742"/>
<circle cx="831.3" cy="306.9" r="3.8" fill="#062742"/>
<circle cx="831.3" cy="310.7" r="3.8" fill="#062742"/>
<circle cx="831.3" cy="314.6" r="3.8" fill="#062742"/>
<circle cx="831.3" cy="318.4" r="3.8" fill="#062742"/>
<circle cx="831.3" cy="322.2" r="3.8" fill="#062742"/>
<circle cx="831.3" cy="326.1" r="3.8" fill="#062742"/>
<circle cx="831.3" cy="329.9" r="3.8" fill="#062742"/>
<circle cx="831.3" cy="333.7" r="3.8" fill="#062742"/>
<circle cx="831.3" cy="337.6" r="3.8" fill="#062742"/>
<circle cx="831.3" cy="341.4" r="3.8" fill="#062742"/>
<circle cx="831.3" cy="345.2" r="3.8" fill="#062742"/>
<circle cx="831.3" cy="349.1" r="3.8" fill="#062742"/>
<circle cx="831.3" cy="352.9" r="3.8" fill="#062742"/>
<circle cx="831.3" cy="356.7" r="3.8" fill="#062742"/>
<circle cx="831.3" cy="360.6" r="3.8" fill="#062742"/>
<circle cx="831.3" cy="364.4" r="3.8" fill="#062742"/>
<circle cx="831.3" cy="368.2" r="3.8" fill="#062742"/>
<circle cx="831.3" cy="372.1" r="3.8" fill="#062742"/>
<circle cx="831.3" cy="375.9" r="3.8" fill="#062742"/>
<circle cx="831.3" cy="379.7" r="3.8" fill="#062742"/>
<circle cx="831.3" cy="383.5" r="3.8" fill="#062742"/>
<circle cx="831.3" cy="387.4" r="3.8" fill="#062742"/>
<circle cx="831.3" cy="390.8" r="3.8" fill="#062742"/>
<circle cx="913.3" cy="130.6" r="3.8" fill="#092b51"/>
<circle cx="913.3" cy="134.5" r="3.8" fill="#092b51"/>
<circle cx="913.3" cy="138.3" r="3.8" fill="#092b51"/>
<circle cx="913.3" cy="142.1" r="3.8" fill="#092b51"/>
<circle cx="913.3" cy="146.0" r="3.8" fill="#092b51"/>
<circle cx="913.3" cy="149.8" r="3.8" fill="#092b51"/>
<circle cx="913.3" cy="153.6" r="3.8" fill="#092b51"/>
<circle cx="913.3" cy="157.5" r="3.8" fill="#092b51"/>
<circle cx="913.3" cy="161.3" r="3.8" fill="#092b51"/>
<circle cx="913.3" cy="165.1" r="3.8" fill="#092b51"/>
<circle cx="913.3" cy="169.0" r="3.8" fill="#092b51"/>
<circle cx="913.3" cy="172.8" r="3.8" fill="#092b51"/>
<circle cx="913.3" cy="176.6" r="3.8" fill="#092b51"/>
<circle cx="913.3" cy="180.5" r="3.8" fill="#092b51"/>
<circle cx="913.3" cy="184.3" r="3.8" fill="#092b51"/>
<circle cx="913.3" cy="188.1" r="3.8" fill="#092b51"/>
<circle cx="913.3" cy="191.9" r="3.8" fill="#092b51"/>
<circle cx="913.3" cy="195.8" r="3.8" fill="#092b51"/>
<circle cx="913.3" cy="199.6" r="3.8" fill="#092b51"/>
<circle cx="913.3" cy="203.4" r="3.8" fill="#092b51"/>
<circle cx="913.3" cy="207.3" r="3.8" fill="#092b51"/>
<circle cx="913.3" cy="211.1" r="3.8" fill="#092b51"/>
<circle cx="913.3" cy="214.9" r="3.8" fill="#092b51"/>
<circle cx="913.3" cy="218.8" r="3.8" fill="#092b51"/>
<circle cx="913.3" cy="222.6" r="3.8" fill="#092b51"/>
<circle cx="913.3" cy="226.4" r="3.8" fill="#092b51"/>
<circle cx="913.3" cy="230.3" r="3.8" fill="#092b51"/>
<circle cx="913.3" cy="234.1" r="3.8" fill="#092b51"/>
<circle cx="913.3" cy="237.9" r="3.8" fill="#092b51"/>
<circle cx="913.3" cy="241.8" r="3.8" fill="#092b51"/>
<circle cx="913.3" cy="245.6" r="3.8" fill="#092b51"/>
<circle cx="913.3" cy="249.4" r="3.8" fill="#092b51"/>
<circle cx="913.3" cy="253.3" r="3.8" fill="#092b51"/>
<circle cx="913.3" cy="257.1" r="3.8" fill="#092b51"/>
<circle cx="913.3" cy="260.9" r="3.8" fill="#092b51"/>
<circle cx="913.3" cy="264.8" r="3.8" fill="#092b51"/>
<circle cx="913.3" cy="268.6" r="3.8" fill="#092b51"/>
<circle cx="913.3" cy="272.4" r="3.8" fill="#092b51"/>
<circle cx="913.3" cy="276.3" r="3.8" fill="#092b51"/>
<circle cx="913.3" cy="280.1" r="3.8" fill="#092b51"/>
<circle cx="913.3" cy="283.9" r="3.8" fill="#092b51"/>
<circle cx="913.3" cy="287.7" r="3.8" fill="#092b51"/>
<circle cx="913.3" cy="291.6" r="3.8" fill="#092b51"/>
<circle cx="913.3" cy="295.4" r="3.8" fill="#092b51"/>
<circle cx="913.3" cy="299.2" r="3.8" fill="#092b51"/>
<circle cx="913.3" cy="303.1" r="3.8" fill="#092b51"/>
<circle cx="913.3" cy="306.9" r="3.8" fill="#092b51"/>
<circle cx="913.3" cy="310.7" r="3.8" fill="#092b51"/>
<circle cx="913.3" cy="314.6" r="3.8" fill="#092b51"/>
<circle cx="913.3" cy="318.4" r="3.8" fill="#092b51"/>
<circle cx="913.3" cy="322.2" r="3.8" fill="#092b51"/>
<circle cx="913.3" cy="326.1" r="3.8" fill="#092b51"/>
<circle cx="913.3" cy="329.9" r="3.8" fill="#092b51"/>
<circle cx="913.3" cy="333.7" r="3.8" fill="#092b51"/>
<circle cx="913.3" cy="337.6" r="3.8" fill="#092b51"/>
<circle cx="913.3" cy="341.4" r="3.8" fill="#092b51"/>
<circle cx="913.3" cy="345.2" r="3.8" fill="#092b51"/>
<circle cx="913.3" cy="349.1" r="3.8" fill="#092b51"/>
<circle cx="913.3" cy="352.9" r="3.8" fill="#092b51"/>
<circle cx="913.3" cy="356.7" r="3.8" fill="#092b51"/>
<circle cx="913.3" cy="360.6" r="3.8" fill="#092b51"/>
<circle cx="913.3" cy="364.4" r="3.8" fill="#092b51"/>
<circle cx="913.3" cy="368.2" r="3.8" fill="#092b51"/>
<circle cx="913.3" cy="372.1" r="3.8" fill="#092b51"/>
<circle cx="913.3" cy="375.9" r="3.8" fill="#092b51"/>
<circle cx="913.3" cy="379.7" r="3.8" fill="#092b51"/>
<circle cx="913.3" cy="383.5" r="3.8" fill="#092b51"/>
<circle cx="913.3" cy="387.4" r="3.8" fill="#092b51"/>
<circle cx="913.3" cy="391.2" r="3.8" fill="#092b51"/>
<circle cx="913.3" cy="395.0" r="3.8" fill="#092b51"/>
<circle cx="913.3" cy="398.9" r="3.8" fill="#092b51"/>
<circle cx="913.3" cy="401.9" r="3.8" fill="#092b51"/>
<circle cx="997.9" cy="130.6" r="3.8" fill="#0b2d59"/>
<circle cx="997.9" cy="134.5" r="3.8" fill="#0b2d59"/>
<circle cx="997.9" cy="138.3" r="3.8" fill="#0b2d59"/>
<circle cx="997.9" cy="142.1" r="3.8" fill="#0b2d59"/>
<circle cx="997.9" cy="146.0" r="3.8" fill="#0b2d59"/>
<circle cx="997.9" cy="149.8" r="3.8" fill="#0b2d59"/>
<circle cx="997.9" cy="153.6" r="3.8" fill="#0b2d59"/>
<circle cx="997.9" cy="157.5" r="3.8" fill="#0b2d59"/>
<circle cx="997.9" cy="161.3" r="3.8" fill="#0b2d59"/>
<circle cx="997.9" cy="165.1" r="3.8" fill="#0b2d59"/>
<circle cx="997.9" cy="169.0" r="3.8" fill="#0b2d59"/>
<circle cx="997.9" cy="172.8" r="3.8" fill="#0b2d59"/>
<circle cx="997.9" cy="176.6" r="3.8" fill="#0b2d59"/>
<circle cx="997.9" cy="180.5" r="3.8" fill="#0b2d59"/>
<circle cx="997.9" cy="184.3" r="3.8" fill="#0b2d59"/>
<circle cx="997.9" cy="188.1" r="3.8" fill="#0b2d59"/>
<circle cx="997.9" cy="191.9" r="3.8" fill="#0b2d59"/>
<circle cx="997.9" cy="195.8" r="3.8" fill="#0b2d59"/>
<circle cx="997.9" cy="199.6" r="3.8" fill="#0b2d59"/>
<circle cx="997.9" cy="203.4" r="3.8" fill="#0b2d59"/>
<circle cx="997.9" cy="207.3" r="3.8" fill="#0b2d59"/>
<circle cx="997.9" cy="211.1" r="3.8" fill="#0b2d59"/>
<circle cx="997.9" cy="214.9" r="3.8" fill="#0b2d59"/>
<circle cx="997.9" cy="218.8" r="3.8" fill="#0b2d59"/>
<circle cx="997.9" cy="222.6" r="3.8" fill="#0b2d59"/>
<circle cx="997.9" cy="226.4" r="3.8" fill="#0b2d59"/>
<circle cx="997.9" cy="230.3" r="3.8" fill="#0b2d59"/>
<circle cx="997.9" cy="234.1" r="3.8" fill="#0b2d59"/>
<circle cx="997.9" cy="237.9" r="3.8" fill="#0b2d59"/>
<circle cx="997.9" cy="241.8" r="3.8" fill="#0b2d59"/>
<circle cx="997.9" cy="245.6" r="3.8" fill="#0b2d59"/>
<circle cx="997.9" cy="249.4" r="3.8" fill="#0b2d59"/>
<circle cx="997.9" cy="253.3" r="3.8" fill="#0b2d59"/>
<circle cx="997.9" cy="257.1" r="3.8" fill="#0b2d59"/>
<circle cx="997.9" cy="260.9" r="3.8" fill="#0b2d59"/>
<circle cx="997.9" cy="264.8" r="3.8" fill="#0b2d59"/>
<circle cx="997.9" cy="268.6" r="3.8" fill="#0b2d59"/>
<circle cx="997.9" cy="272.4" r="3.8" fill="#0b2d59"/>
<circle cx="997.9" cy="276.3" r="3.8" fill="#0b2d59"/>
<circle cx="997.9" cy="280.1" r="3.8" fill="#0b2d59"/>
<circle cx="997.9" cy="283.0" r="3.8" fill="#0b2d59"/>
</g>
<g clip-path="url(#c2)">
<circle cx="1055.5" cy="115.5" r="3.8" fill="#4c0a17"/>
<circle cx="1055.5" cy="119.7" r="3.8" fill="#4c0a17"/>
<circle cx="1055.5" cy="123.9" r="3.8" fill="#4e0b18"/>
<circle cx="1055.5" cy="128.1" r="3.8" fill="#4e0b18"/>
<circle cx="1055.5" cy="132.4" r="3.8" fill="#4e0b18"/>
<circle cx="1055.5" cy="136.6" r="3.8" fill="#510b19"/>
<circle cx="1055.5" cy="140.8" r="3.8" fill="#510b19"/>
<circle cx="1055.5" cy="145.0" r="3.8" fill="#530b1a"/>
<circle cx="1055.5" cy="149.2" r="3.8" fill="#530b1a"/>
<circle cx="1055.5" cy="153.4" r="3.8" fill="#560b1b"/>
<circle cx="1055.5" cy="157.7" r="3.8" fill="#560b1b"/>
<circle cx="1055.5" cy="161.9" r="3.8" fill="#580b1c"/>
<circle cx="1055.5" cy="166.1" r="3.8" fill="#580b1c"/>
<circle cx="1055.5" cy="170.3" r="3.8" fill="#5e0c1e"/>
<circle cx="1055.5" cy="174.5" r="3.8" fill="#600c1f"/>
<circle cx="1055.5" cy="178.7" r="3.8" fill="#600c1f"/>
<circle cx="1055.5" cy="182.9" r="3.8" fill="#630c20"/>
<circle cx="1055.5" cy="187.2" r="3.8" fill="#6b0d23"/>
<circle cx="1055.5" cy="191.4" r="3.8" fill="#720e26"/>
<circle cx="1055.5" cy="195.6" r="3.8" fill="#720e26"/>
<circle cx="1055.5" cy="199.8" r="3.8" fill="#720e26"/>
<circle cx="1055.5" cy="204.0" r="3.8" fill="#720e26"/>
<circle cx="1055.5" cy="208.2" r="3.8" fill="#750e27"/>
<circle cx="1055.5" cy="212.4" r="3.8" fill="#750e27"/>
<circle cx="1055.5" cy="216.7" r="3.8" fill="#750e27"/>
<circle cx="1055.5" cy="220.9" r="3.8" fill="#750e27"/>
<circle cx="1055.5" cy="225.1" r="3.8" fill="#750e27"/>
<circle cx="1055.5" cy="229.3" r="3.8" fill="#750e27"/>
<circle cx="1055.5" cy="233.5" r="3.8" fill="#750e27"/>
<circle cx="1055.5" cy="237.7" r="3.8" fill="#780e28"/>
<circle cx="1055.5" cy="242.0" r="3.8" fill="#780e28"/>
<circle cx="1055.5" cy="246.2" r="3.8" fill="#780e28"/>
<circle cx="1055.5" cy="250.4" r="3.8" fill="#780e28"/>
<circle cx="1055.5" cy="254.6" r="3.8" fill="#811327"/>
<circle cx="1055.5" cy="258.8" r="3.8" fill="#8c1926"/>
<circle cx="1055.5" cy="263.0" r="3.8" fill="#931d26"/>
<circle cx="1055.5" cy="267.2" r="3.8" fill="#9b2225"/>
<circle cx="1055.5" cy="271.5" r="3.8" fill="#9e2325"/>
<circle cx="1055.5" cy="275.7" r="3.8" fill="#a22625"/>
<circle cx="1055.5" cy="279.9" r="3.8" fill="#a42725"/>
<circle cx="1055.5" cy="284.1" r="3.8" fill="#a72824"/>
<circle cx="1055.5" cy="288.3" r="3.8" fill="#a92924"/>
<circle cx="1055.5" cy="292.5" r="3.8" fill="#b0342a"/>
<circle cx="1055.5" cy="296.8" r="3.8" fill="#b43e30"/>
<circle cx="1055.5" cy="301.0" r="3.8" fill="#bb503b"/>
<circle cx="1055.5" cy="305.2" r="3.8" fill="#c26146"/>
<circle cx="1055.5" cy="309.4" r="3.8" fill="#c46649"/>
<circle cx="1055.5" cy="313.6" r="3.8" fill="#c66b4f"/>
<circle cx="1055.5" cy="317.8" r="3.8" fill="#c66b4f"/>
<circle cx="1055.5" cy="322.0" r="3.8" fill="#c76d52"/>
<circle cx="1055.5" cy="326.3" r="3.8" fill="#c76d52"/>
<circle cx="1055.5" cy="330.5" r="3.8" fill="#c76d52"/>
<circle cx="1055.5" cy="334.7" r="3.8" fill="#c76d52"/>
<circle cx="1055.5" cy="338.9" r="3.8" fill="#c76d52"/>
<circle cx="1055.5" cy="343.1" r="3.8" fill="#c76d52"/>
<circle cx="1055.5" cy="347.3" r="3.8" fill="#c76d52"/>
<circle cx="1055.5" cy="351.6" r="3.8" fill="#c76d52"/>
<circle cx="1055.5" cy="355.8" r="3.8" fill="#c76d52"/>
<circle cx="1055.5" cy="360.0" r="3.8" fill="#c76d52"/>
<circle cx="1055.5" cy="364.2" r="3.8" fill="#c76d52"/>
<circle cx="1055.5" cy="368.4" r="3.8" fill="#c76d52"/>
<circle cx="1055.5" cy="372.6" r="3.8" fill="#c76d52"/>
<circle cx="1055.5" cy="376.8" r="3.8" fill="#c76d52"/>
<circle cx="1055.5" cy="381.1" r="3.8" fill="#c76d52"/>
<circle cx="1055.5" cy="385.3" r="3.8" fill="#c76d52"/>
<circle cx="1055.5" cy="389.5" r="3.8" fill="#c76d52"/>
<circle cx="1055.5" cy="393.7" r="3.8" fill="#c76d52"/>
<circle cx="1055.5" cy="397.9" r="3.8" fill="#c76d52"/>
<circle cx="1055.5" cy="402.1" r="3.8" fill="#c77054"/>
<circle cx="1055.5" cy="406.3" r="3.8" fill="#c77054"/>
<circle cx="1055.5" cy="410.6" r="3.8" fill="#c77054"/>
<circle cx="1055.5" cy="414.8" r="3.8" fill="#c77054"/>
<circle cx="1055.5" cy="419.0" r="3.8" fill="#c77054"/>
<circle cx="1055.5" cy="423.2" r="3.8" fill="#c77054"/>
<circle cx="1055.5" cy="426.6" r="3.8" fill="#c77054"/>
<circle cx="1223.7" cy="115.5" r="3.8" fill="#3c0911"/>
<circle cx="1223.7" cy="119.7" r="3.8" fill="#3c0911"/>
<circle cx="1223.7" cy="123.9" r="3.8" fill="#3c0911"/>
<circle cx="1223.7" cy="128.1" r="3.8" fill="#3c0911"/>
<circle cx="1223.7" cy="132.4" r="3.8" fill="#3c0911"/>
<circle cx="1223.7" cy="136.6" r="3.8" fill="#3c0911"/>
<circle cx="1223.7" cy="140.8" r="3.8" fill="#3c0911"/>
<circle cx="1223.7" cy="145.0" r="3.8" fill="#3c0911"/>
<circle cx="1223.7" cy="149.2" r="3.8" fill="#3c0911"/>
<circle cx="1223.7" cy="153.4" r="3.8" fill="#3c0911"/>
<circle cx="1223.7" cy="157.7" r="3.8" fill="#3c0911"/>
<circle cx="1223.7" cy="161.9" r="3.8" fill="#3c0911"/>
<circle cx="1223.7" cy="166.1" r="3.8" fill="#3c0911"/>
<circle cx="1223.7" cy="170.3" r="3.8" fill="#3c0911"/>
<circle cx="1223.7" cy="174.5" r="3.8" fill="#3c0911"/>
<circle cx="1223.7" cy="178.7" r="3.8" fill="#3c0911"/>
<circle cx="1223.7" cy="182.9" r="3.8" fill="#3c0911"/>
<circle cx="1223.7" cy="187.2" r="3.8" fill="#3c0911"/>
<circle cx="1223.7" cy="191.4" r="3.8" fill="#460a15"/>
<circle cx="1223.7" cy="195.6" r="3.8" fill="#510b19"/>
<circle cx="1223.7" cy="199.8" r="3.8" fill="#5b0c1d"/>
<circle cx="1223.7" cy="204.0" r="3.8" fill="#5e0c1e"/>
<circle cx="1223.7" cy="208.2" r="3.8" fill="#630c20"/>
<circle cx="1223.7" cy="212.4" r="3.8" fill="#650c21"/>
<circle cx="1223.7" cy="216.7" r="3.8" fill="#680d22"/>
<circle cx="1223.7" cy="220.9" r="3.8" fill="#6b0d23"/>
<circle cx="1223.7" cy="225.1" r="3.8" fill="#700d25"/>
<circle cx="1223.7" cy="229.3" r="3.8" fill="#720e26"/>
<circle cx="1223.7" cy="233.5" r="3.8" fill="#780e28"/>
<circle cx="1223.7" cy="237.7" r="3.8" fill="#7e1228"/>
<circle cx="1223.7" cy="242.0" r="3.8" fill="#831427"/>
<circle cx="1223.7" cy="246.2" r="3.8" fill="#871727"/>
<circle cx="1223.7" cy="250.4" r="3.8" fill="#901c26"/>
<circle cx="1223.7" cy="254.6" r="3.8" fill="#992125"/>
<circle cx="1223.7" cy="258.8" r="3.8" fill="#a22625"/>
<circle cx="1223.7" cy="263.0" r="3.8" fill="#a92924"/>
<circle cx="1223.7" cy="267.2" r="3.8" fill="#ae2f27"/>
<circle cx="1223.7" cy="271.5" r="3.8" fill="#b1372b"/>
<circle cx="1223.7" cy="275.7" r="3.8" fill="#b33c2e"/>
<circle cx="1223.7" cy="279.9" r="3.8" fill="#b54131"/>
<circle cx="1223.7" cy="284.1" r="3.8" fill="#b84836"/>
<circle cx="1223.7" cy="288.3" r="3.8" fill="#ba4d39"/>
<circle cx="1223.7" cy="292.5" r="3.8" fill="#bc523c"/>
<circle cx="1223.7" cy="296.8" r="3.8" fill="#bf5a41"/>
<circle cx="1223.7" cy="301.0" r="3.8" fill="#c05c42"/>
<circle cx="1223.7" cy="305.2" r="3.8" fill="#c26146"/>
<circle cx="1223.7" cy="309.4" r="3.8" fill="#c46649"/>
<circle cx="1223.7" cy="313.6" r="3.8" fill="#c66b4f"/>
<circle cx="1223.7" cy="317.8" r="3.8" fill="#c77054"/>
<circle cx="1223.7" cy="322.0" r="3.8" fill="#c9755a"/>
<circle cx="1223.7" cy="326.3" r="3.8" fill="#c9755a"/>
<circle cx="1223.7" cy="330.5" r="3.8" fill="#c9755a"/>
<circle cx="1223.7" cy="334.7" r="3.8" fill="#c9755a"/>
<circle cx="1223.7" cy="338.9" r="3.8" fill="#c9755a"/>
<circle cx="1223.7" cy="343.1" r="3.8" fill="#c9755a"/>
<circle cx="1223.7" cy="347.3" r="3.8" fill="#c9755a"/>
<circle cx="1223.7" cy="351.6" r="3.8" fill="#c9755a"/>
<circle cx="1223.7" cy="355.8" r="3.8" fill="#c9755a"/>
<circle cx="1223.7" cy="360.0" r="3.8" fill="#c9755a"/>
<circle cx="1223.7" cy="364.2" r="3.8" fill="#c9755a"/>
<circle cx="1223.7" cy="368.4" r="3.8" fill="#c9755a"/>
<circle cx="1223.7" cy="372.6" r="3.8" fill="#c9755a"/>
<circle cx="1223.7" cy="376.8" r="3.8" fill="#c9755a"/>
<circle cx="1223.7" cy="381.1" r="3.8" fill="#c9755a"/>
<circle cx="1223.7" cy="385.3" r="3.8" fill="#c9755a"/>
<circle cx="1223.7" cy="389.5" r="3.8" fill="#c9755a"/>
<circle cx="1223.7" cy="393.7" r="3.8" fill="#c9755a"/>
<circle cx="1223.7" cy="397.9" r="3.8" fill="#c9755a"/>
<circle cx="1223.7" cy="402.1" r="3.8" fill="#c9755a"/>
<circle cx="1223.7" cy="406.3" r="3.8" fill="#c9755a"/>
<circle cx="1223.7" cy="410.6" r="3.8" fill="#c9755a"/>
<circle cx="1223.7" cy="414.8" r="3.8" fill="#c9755a"/>
<circle cx="1223.7" cy="419.0" r="3.8" fill="#c9755a"/>
<circle cx="1223.7" cy="423.2" r="3.8" fill="#c9755a"/>
<circle cx="1223.7" cy="427.4" r="3.8" fill="#c9755a"/>
<circle cx="1223.7" cy="431.6" r="3.8" fill="#c9755a"/>
<circle cx="1223.7" cy="435.9" r="3.8" fill="#c9755a"/>
<circle cx="1223.7" cy="440.1" r="3.8" fill="#c9755a"/>
<circle cx="1223.7" cy="444.3" r="3.8" fill="#c9755a"/>
<circle cx="1223.7" cy="448.5" r="3.8" fill="#c9755a"/>
<circle cx="1308.3" cy="115.5" r="3.8" fill="#460a15"/>
<circle cx="1308.3" cy="119.7" r="3.8" fill="#490a16"/>
<circle cx="1308.3" cy="123.9" r="3.8" fill="#510b19"/>
<circle cx="1308.3" cy="128.1" r="3.8" fill="#5b0c1d"/>
<circle cx="1308.3" cy="132.4" r="3.8" fill="#5b0c1d"/>
<circle cx="1308.3" cy="136.6" r="3.8" fill="#5e0c1e"/>
<circle cx="1308.3" cy="140.8" r="3.8" fill="#600c1f"/>
<circle cx="1308.3" cy="145.0" r="3.8" fill="#600c1f"/>
<circle cx="1308.3" cy="149.2" r="3.8" fill="#630c20"/>
<circle cx="1308.3" cy="153.4" r="3.8" fill="#630c20"/>
<circle cx="1308.3" cy="157.7" r="3.8" fill="#650c21"/>
<circle cx="1308.3" cy="161.9" r="3.8" fill="#650c21"/>
<circle cx="1308.3" cy="166.1" r="3.8" fill="#680d22"/>
<circle cx="1308.3" cy="170.3" r="3.8" fill="#680d22"/>
<circle cx="1308.3" cy="174.5" r="3.8" fill="#7a0f28"/>
<circle cx="1308.3" cy="178.7" r="3.8" fill="#871727"/>
<circle cx="1308.3" cy="182.9" r="3.8" fill="#971f26"/>
<circle cx="1308.3" cy="187.2" r="3.8" fill="#a72824"/>
<circle cx="1308.3" cy="191.4" r="3.8" fill="#b0342a"/>
<circle cx="1308.3" cy="195.6" r="3.8" fill="#b43e30"/>
<circle cx="1308.3" cy="199.8" r="3.8" fill="#b94b38"/>
<circle cx="1308.3" cy="204.0" r="3.8" fill="#bc523c"/>
<circle cx="1308.3" cy="208.2" r="3.8" fill="#be573f"/>
<circle cx="1308.3" cy="212.4" r="3.8" fill="#c15f44"/>
<circle cx="1308.3" cy="216.7" r="3.8" fill="#c46649"/>
<circle cx="1308.3" cy="220.9" r="3.8" fill="#c66b4f"/>
<circle cx="1308.3" cy="225.1" r="3.8" fill="#c87257"/>
<circle cx="1308.3" cy="229.3" r="3.8" fill="#c9775d"/>
<circle cx="1308.3" cy="233.5" r="3.8" fill="#cb7c63"/>
<circle cx="1308.3" cy="237.7" r="3.8" fill="#cc7e65"/>
<circle cx="1308.3" cy="242.0" r="3.8" fill="#cc7e65"/>
<circle cx="1308.3" cy="246.2" r="3.8" fill="#cc8168"/>
<circle cx="1308.3" cy="250.4" r="3.8" fill="#cc8168"/>
<circle cx="1308.3" cy="254.6" r="3.8" fill="#cc8168"/>
<circle cx="1308.3" cy="258.8" r="3.8" fill="#cd836b"/>
<circle cx="1308.3" cy="263.0" r="3.8" fill="#cd836b"/>
<circle cx="1308.3" cy="267.2" r="3.8" fill="#ce866e"/>
<circle cx="1308.3" cy="271.5" r="3.8" fill="#ce866e"/>
<circle cx="1308.3" cy="275.7" r="3.8" fill="#ce866e"/>
<circle cx="1308.3" cy="279.9" r="3.8" fill="#cf8871"/>
<circle cx="1308.3" cy="284.1" r="3.8" fill="#cf8871"/>
<circle cx="1308.3" cy="288.3" r="3.8" fill="#cf8871"/>
<circle cx="1308.3" cy="292.5" r="3.8" fill="#cf8871"/>
<circle cx="1308.3" cy="296.8" r="3.8" fill="#cf8871"/>
<circle cx="1308.3" cy="301.0" r="3.8" fill="#cf8871"/>
<circle cx="1308.3" cy="305.2" r="3.8" fill="#cf8871"/>
<circle cx="1308.3" cy="309.4" r="3.8" fill="#cf8871"/>
<circle cx="1308.3" cy="313.6" r="3.8" fill="#cf8a73"/>
<circle cx="1308.3" cy="317.8" r="3.8" fill="#cf8a73"/>
<circle cx="1308.3" cy="322.0" r="3.8" fill="#cf8a73"/>
<circle cx="1308.3" cy="326.3" r="3.8" fill="#cf8a73"/>
<circle cx="1308.3" cy="330.5" r="3.8" fill="#cf8a73"/>
<circle cx="1308.3" cy="334.7" r="3.8" fill="#cf8a73"/>
<circle cx="1308.3" cy="338.9" r="3.8" fill="#cf8a73"/>
<circle cx="1308.3" cy="343.1" r="3.8" fill="#cf8a73"/>
<circle cx="1308.3" cy="347.3" r="3.8" fill="#cf8a73"/>
<circle cx="1308.3" cy="351.6" r="3.8" fill="#cf8a73"/>
<circle cx="1308.3" cy="355.8" r="3.8" fill="#cf8a73"/>
<circle cx="1308.3" cy="360.0" r="3.8" fill="#cf8a73"/>
<circle cx="1308.3" cy="364.2" r="3.8" fill="#cf8a73"/>
<circle cx="1308.3" cy="368.4" r="3.8" fill="#d08d76"/>
<circle cx="1308.3" cy="372.6" r="3.8" fill="#d08d76"/>
<circle cx="1308.3" cy="376.8" r="3.8" fill="#d08d76"/>
<circle cx="1308.3" cy="381.1" r="3.8" fill="#d08d76"/>
<circle cx="1308.3" cy="385.3" r="3.8" fill="#d08d76"/>
<circle cx="1308.3" cy="389.5" r="3.8" fill="#d08d76"/>
<circle cx="1308.3" cy="393.7" r="3.8" fill="#d08d76"/>
<circle cx="1308.3" cy="397.9" r="3.8" fill="#d08d76"/>
<circle cx="1308.3" cy="401.7" r="3.8" fill="#d08d76"/>
<circle cx="1390.3" cy="115.5" r="3.8" fill="#460a15"/>
<circle cx="1390.3" cy="119.7" r="3.8" fill="#460a15"/>
<circle cx="1390.3" cy="123.9" r="3.8" fill="#460a15"/>
<circle cx="1390.3" cy="128.1" r="3.8" fill="#460a15"/>
<circle cx="1390.3" cy="132.4" r="3.8" fill="#490a16"/>
<circle cx="1390.3" cy="136.6" r="3.8" fill="#4c0a17"/>
<circle cx="1390.3" cy="140.8" r="3.8" fill="#510b19"/>
<circle cx="1390.3" cy="145.0" r="3.8" fill="#530b1a"/>
<circle cx="1390.3" cy="149.2" r="3.8" fill="#580b1c"/>
<circle cx="1390.3" cy="153.4" r="3.8" fill="#5b0c1d"/>
<circle cx="1390.3" cy="157.7" r="3.8" fill="#5e0c1e"/>
<circle cx="1390.3" cy="161.9" r="3.8" fill="#630c20"/>
<circle cx="1390.3" cy="166.1" r="3.8" fill="#650c21"/>
<circle cx="1390.3" cy="170.3" r="3.8" fill="#6b0d23"/>
<circle cx="1390.3" cy="174.5" r="3.8" fill="#720e26"/>
<circle cx="1390.3" cy="178.7" r="3.8" fill="#780e28"/>
<circle cx="1390.3" cy="182.9" r="3.8" fill="#780e28"/>
<circle cx="1390.3" cy="187.2" r="3.8" fill="#7a0f28"/>
<circle cx="1390.3" cy="191.4" r="3.8" fill="#7a0f28"/>
<circle cx="1390.3" cy="195.6" r="3.8" fill="#7c1028"/>
<circle cx="1390.3" cy="199.8" r="3.8" fill="#7c1028"/>
<circle cx="1390.3" cy="204.0" r="3.8" fill="#7e1228"/>
<circle cx="1390.3" cy="208.2" r="3.8" fill="#7e1228"/>
<circle cx="1390.3" cy="212.4" r="3.8" fill="#811327"/>
<circle cx="1390.3" cy="216.7" r="3.8" fill="#811327"/>
<circle cx="1390.3" cy="220.9" r="3.8" fill="#811327"/>
<circle cx="1390.3" cy="225.1" r="3.8" fill="#8e1a26"/>
<circle cx="1390.3" cy="229.3" r="3.8" fill="#9b2225"/>
<circle cx="1390.3" cy="233.5" r="3.8" fill="#9b2225"/>
<circle cx="1390.3" cy="237.7" r="3.8" fill="#9e2325"/>
<circle cx="1390.3" cy="242.0" r="3.8" fill="#9e2325"/>
<circle cx="1390.3" cy="246.2" r="3.8" fill="#9e2325"/>
<circle cx="1390.3" cy="250.4" r="3.8" fill="#9e2325"/>
<circle cx="1390.3" cy="254.6" r="3.8" fill="#a02425"/>
<circle cx="1390.3" cy="258.8" r="3.8" fill="#a02425"/>
<circle cx="1390.3" cy="263.0" r="3.8" fill="#a02425"/>
<circle cx="1390.3" cy="267.2" r="3.8" fill="#a72824"/>
<circle cx="1390.3" cy="271.5" r="3.8" fill="#ad2d25"/>
<circle cx="1390.3" cy="275.7" r="3.8" fill="#b0342a"/>
<circle cx="1390.3" cy="279.9" r="3.8" fill="#b2392d"/>
<circle cx="1390.3" cy="284.1" r="3.8" fill="#b33c2e"/>
<circle cx="1390.3" cy="288.3" r="3.8" fill="#b43e30"/>
<circle cx="1390.3" cy="292.5" r="3.8" fill="#b54131"/>
<circle cx="1390.3" cy="296.8" r="3.8" fill="#bc523c"/>
<circle cx="1390.3" cy="301.0" r="3.8" fill="#c36447"/>
<circle cx="1390.3" cy="305.2" r="3.8" fill="#c9775d"/>
<circle cx="1390.3" cy="309.4" r="3.8" fill="#cf8a73"/>
<circle cx="1390.3" cy="313.6" r="3.8" fill="#cf8a73"/>
<circle cx="1390.3" cy="317.8" r="3.8" fill="#d08d76"/>
<circle cx="1390.3" cy="322.0" r="3.8" fill="#d18f79"/>
<circle cx="1390.3" cy="326.3" r="3.8" fill="#d18f79"/>
<circle cx="1390.3" cy="330.5" r="3.8" fill="#d2927c"/>
<circle cx="1390.3" cy="334.7" r="3.8" fill="#d2927c"/>
<circle cx="1390.3" cy="338.9" r="3.8" fill="#d2947f"/>
<circle cx="1390.3" cy="343.1" r="3.8" fill="#d2947f"/>
<circle cx="1390.3" cy="347.3" r="3.8" fill="#d49984"/>
<circle cx="1390.3" cy="351.6" r="3.8" fill="#d49b87"/>
<circle cx="1390.3" cy="355.8" r="3.8" fill="#d59e8a"/>
<circle cx="1390.3" cy="360.0" r="3.8" fill="#d6a08d"/>
<circle cx="1390.3" cy="364.2" r="3.8" fill="#d7a290"/>
<circle cx="1390.3" cy="368.4" r="3.8" fill="#d7a290"/>
<circle cx="1390.3" cy="372.6" r="3.8" fill="#d7a290"/>
<circle cx="1390.3" cy="376.8" r="3.8" fill="#d7a290"/>
<circle cx="1390.3" cy="381.1" r="3.8" fill="#d7a290"/>
<circle cx="1390.3" cy="385.3" r="3.8" fill="#d7a290"/>
<circle cx="1390.3" cy="389.5" r="3.8" fill="#d7a492"/>
<circle cx="1390.3" cy="393.7" r="3.8" fill="#d7a492"/>
<circle cx="1390.3" cy="397.9" r="3.8" fill="#d7a492"/>
<circle cx="1390.3" cy="402.1" r="3.8" fill="#d7a492"/>
<circle cx="1390.3" cy="406.3" r="3.8" fill="#d7a492"/>
<circle cx="1390.3" cy="410.6" r="3.8" fill="#d7a492"/>
<circle cx="1390.3" cy="413.9" r="3.8" fill="#d7a492"/>
<circle cx="1474.9" cy="115.5" r="3.8" fill="#4c0a17"/>
<circle cx="1474.9" cy="119.7" r="3.8" fill="#4e0b18"/>
<circle cx="1474.9" cy="123.9" r="3.8" fill="#510b19"/>
<circle cx="1474.9" cy="128.1" r="3.8" fill="#530b1a"/>
<circle cx="1474.9" cy="132.4" r="3.8" fill="#650c21"/>
<circle cx="1474.9" cy="136.6" r="3.8" fill="#780e28"/>
<circle cx="1474.9" cy="140.8" r="3.8" fill="#7c1028"/>
<circle cx="1474.9" cy="145.0" r="3.8" fill="#811327"/>
<circle cx="1474.9" cy="149.2" r="3.8" fill="#831427"/>
<circle cx="1474.9" cy="153.4" r="3.8" fill="#851527"/>
<circle cx="1474.9" cy="157.7" r="3.8" fill="#851527"/>
<circle cx="1474.9" cy="161.9" r="3.8" fill="#851527"/>
<circle cx="1474.9" cy="166.1" r="3.8" fill="#851527"/>
<circle cx="1474.9" cy="170.3" r="3.8" fill="#851527"/>
<circle cx="1474.9" cy="174.5" r="3.8" fill="#851527"/>
<circle cx="1474.9" cy="178.7" r="3.8" fill="#851527"/>
<circle cx="1474.9" cy="182.9" r="3.8" fill="#851527"/>
<circle cx="1474.9" cy="187.2" r="3.8" fill="#851527"/>
<circle cx="1474.9" cy="191.4" r="3.8" fill="#851527"/>
<circle cx="1474.9" cy="195.6" r="3.8" fill="#851527"/>
<circle cx="1474.9" cy="199.8" r="3.8" fill="#871727"/>
<circle cx="1474.9" cy="204.0" r="3.8" fill="#871727"/>
<circle cx="1474.9" cy="208.2" r="3.8" fill="#871727"/>
<circle cx="1474.9" cy="212.4" r="3.8" fill="#951e26"/>
<circle cx="1474.9" cy="216.7" r="3.8" fill="#a02425"/>
<circle cx="1474.9" cy="220.9" r="3.8" fill="#a22625"/>
<circle cx="1474.9" cy="225.1" r="3.8" fill="#a22625"/>
<circle cx="1474.9" cy="229.3" r="3.8" fill="#a42725"/>
<circle cx="1474.9" cy="233.5" r="3.8" fill="#a42725"/>
<circle cx="1474.9" cy="237.7" r="3.8" fill="#a72824"/>
<circle cx="1474.9" cy="242.0" r="3.8" fill="#b2392d"/>
<circle cx="1474.9" cy="246.2" r="3.8" fill="#ba4d39"/>
<circle cx="1474.9" cy="250.4" r="3.8" fill="#bb503b"/>
<circle cx="1474.9" cy="254.6" r="3.8" fill="#bd553e"/>
<circle cx="1474.9" cy="258.8" r="3.8" fill="#bf5a41"/>
<circle cx="1474.9" cy="263.0" r="3.8" fill="#c05c42"/>
<circle cx="1474.9" cy="267.2" r="3.8" fill="#c5694c"/>
<circle cx="1474.9" cy="271.5" r="3.8" fill="#c9755a"/>
<circle cx="1474.9" cy="275.7" r="3.8" fill="#c9755a"/>
<circle cx="1474.9" cy="279.9" r="3.8" fill="#c9775d"/>
<circle cx="1474.9" cy="283.1" r="3.8" fill="#ca7960"/>
</g>
<rect x="314.5" y="521.5" width="470.0" height="24.0" fill="url(#g0)"/>
<rect x="1034.5" y="521.5" width="462.0" height="23.0" fill="url(#g1)"/>
<path d="M79.5 115.5H542.5V448.5H79.5ZM100.5 448.5V453.36M190.5 448.5V453.36M280.5 448.5V453.36M369.5 448.5V453.36M459.5 448.5V453.36M79.5 126.5H74.64M79.5 203.5H74.64M79.5 280.5H74.64M79.5 356.5H74.64M79.5 433.5H74.64M557.5 115.5H1019.5V448.5H557.5ZM578.5 448.5V453.36M668.5 448.5V453.36M757.5 448.5V453.36M847.5 448.5V453.36M936.5 448.5V453.36M557.5 126.5H552.64M557.5 165.5H552.64M557.5 203.5H552.64M557.5 241.5H552.64M557.5 280.5H552.64M557.5 318.5H552.64M557.5 356.5H552.64M557.5 395.5H552.64M557.5 433.5H552.64M1034.5 115.5H1496.5V448.5H1034.5ZM1055.5 448.5V453.36M1145.5 448.5V453.36M1234.5 448.5V453.36M1324.5 448.5V453.36M1413.5 448.5V453.36M1034.5 153.5H1029.64M1034.5 195.5H1029.64M1034.5 237.5H1029.64M1034.5 279.5H1029.64M1034.5 322.5H1029.64M1034.5 364.5H1029.64M1034.5 406.5H1029.64M1034.5 448.5H1029.64M314.5 521.5H784.5V545.5H314.5ZM394.5 545.5V550.36M476.5 545.5V550.36M558.5 545.5V550.36M641.5 545.5V550.36M723.5 545.5V550.36M1034.5 521.5H1496.5V544.5H1034.5ZM1099.5 544.5V549.36M1182.5 544.5V549.36M1265.5 544.5V549.36M1348.5 544.5V549.36M1431.5 544.5V549.36" fill="none" stroke="#000" stroke-width="1.111"/>
<g font-family="Liberation Sans, sans-serif" fill="#000" style="font-kerning:none;font-variant-ligatures:none">
<text x="94.82" y="473.00" font-size="20.42" textLength="11.40" lengthAdjust="spacingAndGlyphs">0</text>
<text x="184.33" y="473.00" font-size="20.42" textLength="10.99" lengthAdjust="spacingAndGlyphs">2</text>
<text x="274.62" y="473.00" font-size="20.42" textLength="11.40" lengthAdjust="spacingAndGlyphs">4</text>
<text x="363.78" y="473.00" font-size="20.42" textLength="11.80" lengthAdjust="spacingAndGlyphs">6</text>
<text x="453.72" y="473.00" font-size="20.42" textLength="11.52" lengthAdjust="spacingAndGlyphs">8</text>
<text x="170.44" y="497.37" font-size="20.42" textLength="141.02" lengthAdjust="spacingAndGlyphs">along-transect</text>
<text x="318.13" y="497.37" font-size="20.42" textLength="82.40" lengthAdjust="spacingAndGlyphs">distance</text>
<text x="406.76" y="497.37" font-size="20.42" textLength="45.58" lengthAdjust="spacingAndGlyphs">[km]</text>
<text x="57.93" y="134.19" font-size="20.42" textLength="11.40" lengthAdjust="spacingAndGlyphs">0</text>
<text x="28.82" y="210.83" font-size="20.42" textLength="39.84" lengthAdjust="spacingAndGlyphs">−20</text>
<text x="28.82" y="287.47" font-size="20.42" textLength="39.84" lengthAdjust="spacingAndGlyphs">−40</text>
<text x="28.82" y="364.11" font-size="20.42" textLength="39.84" lengthAdjust="spacingAndGlyphs">−60</text>
<text x="28.82" y="440.75" font-size="20.42" textLength="39.84" lengthAdjust="spacingAndGlyphs">−80</text>
<text x="-332.24" y="19.14" font-size="20.42" textLength="59.05" lengthAdjust="spacingAndGlyphs" transform="rotate(-90)">Depth</text>
<text x="-266.83" y="19.14" font-size="20.42" textLength="34.38" lengthAdjust="spacingAndGlyphs" transform="rotate(-90)">[m]</text>
<text x="243.20" y="107.17" font-size="23.33" textLength="135.15" lengthAdjust="spacingAndGlyphs">Observation</text>
<text x="572.78" y="473.00" font-size="20.42" textLength="11.40" lengthAdjust="spacingAndGlyphs">0</text>
<text x="662.09" y="473.00" font-size="20.42" textLength="10.99" lengthAdjust="spacingAndGlyphs">2</text>
<text x="752.19" y="473.00" font-size="20.42" textLength="11.40" lengthAdjust="spacingAndGlyphs">4</text>
<text x="841.15" y="473.00" font-size="20.42" textLength="11.80" lengthAdjust="spacingAndGlyphs">6</text>
<text x="930.89" y="473.00" font-size="20.42" textLength="11.52" lengthAdjust="spacingAndGlyphs">8</text>
<text x="647.94" y="497.37" font-size="20.42" textLength="141.02" lengthAdjust="spacingAndGlyphs">along-transect</text>
<text x="795.63" y="497.37" font-size="20.42" textLength="82.40" lengthAdjust="spacingAndGlyphs">distance</text>
<text x="884.26" y="497.37" font-size="20.42" textLength="45.58" lengthAdjust="spacingAndGlyphs">[km]</text>
<text x="755.61" y="107.17" font-size="23.33" textLength="65.74" lengthAdjust="spacingAndGlyphs">CIOFS</text>
<text x="1049.78" y="473.00" font-size="20.42" textLength="11.40" lengthAdjust="spacingAndGlyphs">0</text>
<text x="1139.09" y="473.00" font-size="20.42" textLength="10.99" lengthAdjust="spacingAndGlyphs">2</text>
<text x="1229.19" y="473.00" font-size="20.42" textLength="11.40" lengthAdjust="spacingAndGlyphs">4</text>
<text x="1318.15" y="473.00" font-size="20.42" textLength="11.80" lengthAdjust="spacingAndGlyphs">6</text>
<text x="1407.89" y="473.00" font-size="20.42" textLength="11.52" lengthAdjust="spacingAndGlyphs">8</text>
<text x="1124.94" y="497.37" font-size="20.42" textLength="141.02" lengthAdjust="spacingAndGlyphs">along-transect</text>
<text x="1272.63" y="497.37" font-size="20.42" textLength="82.40" lengthAdjust="spacingAndGlyphs">distance</text>
<text x="1361.26" y="497.37" font-size="20.42" textLength="45.58" lengthAdjust="spacingAndGlyphs">[km]</text>
<text x="1199.41" y="107.17" font-size="23.33" textLength="42.83" lengthAdjust="spacingAndGlyphs">Obs</text>
<text x="1249.59" y="107.17" font-size="23.33" textLength="7.98" lengthAdjust="spacingAndGlyphs">-</text>
<text x="1264.86" y="107.17" font-size="23.33" textLength="66.15" lengthAdjust="spacingAndGlyphs">Model</text>
<text x="379.21" y="570.00" font-size="20.42" textLength="29.79" lengthAdjust="spacingAndGlyphs">8.5</text>
<text x="461.45" y="570.00" font-size="20.42" textLength="30.34" lengthAdjust="spacingAndGlyphs">9.0</text>
<text x="543.55" y="570.00" font-size="20.42" textLength="29.97" lengthAdjust="spacingAndGlyphs">9.5</text>
<text x="619.10" y="570.00" font-size="20.42" textLength="42.47" lengthAdjust="spacingAndGlyphs">10.0</text>
<text x="701.20" y="570.00" font-size="20.42" textLength="42.10" lengthAdjust="spacingAndGlyphs">10.5</text>
<text x="418.95" y="594.37" font-size="20.42" textLength="34.11" lengthAdjust="spacingAndGlyphs">Sea</text>
<text x="461.92" y="594.37" font-size="20.42" textLength="55.06" lengthAdjust="spacingAndGlyphs">water</text>
<text x="523.00" y="594.37" font-size="20.42" textLength="122.38" lengthAdjust="spacingAndGlyphs">temperature</text>
<text x="651.72" y="594.37" font-size="20.42" textLength="28.67" lengthAdjust="spacingAndGlyphs">[C]</text>
<text x="1085.56" y="569.00" font-size="20.42" textLength="27.07" lengthAdjust="spacingAndGlyphs">−2</text>
<text x="1168.35" y="569.00" font-size="20.42" textLength="27.20" lengthAdjust="spacingAndGlyphs">−1</text>
<text x="1259.77" y="569.00" font-size="20.42" textLength="11.40" lengthAdjust="spacingAndGlyphs">0</text>
<text x="1341.82" y="569.00" font-size="20.42" textLength="10.89" lengthAdjust="spacingAndGlyphs">1</text>
<text x="1425.11" y="569.00" font-size="20.42" textLength="10.99" lengthAdjust="spacingAndGlyphs">2</text>
<text x="1082.52" y="593.37" font-size="20.42" textLength="34.11" lengthAdjust="spacingAndGlyphs">Sea</text>
<text x="1125.48" y="593.37" font-size="20.42" textLength="55.06" lengthAdjust="spacingAndGlyphs">water</text>
<text x="1186.56" y="593.37" font-size="20.42" textLength="122.38" lengthAdjust="spacingAndGlyphs">temperature</text>
<text x="1315.28" y="593.37" font-size="20.42" textLength="28.67" lengthAdjust="spacingAndGlyphs">[C]</text>
<text x="1350.37" y="593.37" font-size="20.42" textLength="98.03" lengthAdjust="spacingAndGlyphs">difference</text>
<text x="291.13" y="21.70" font-size="23.33" textLength="261.44" lengthAdjust="spacingAndGlyphs">transect_7-2019-09-19:</text>
<text x="560.37" y="21.70" font-size="23.33" textLength="52.26" lengthAdjust="spacingAndGlyphs">bias:</text>
<text x="620.03" y="21.70" font-size="23.33" textLength="42.76" lengthAdjust="spacingAndGlyphs">-1.7</text>
<text x="677.76" y="21.70" font-size="23.33" textLength="50.43" lengthAdjust="spacingAndGlyphs">corr:</text>
<text x="736.07" y="21.70" font-size="23.33" textLength="34.36" lengthAdjust="spacingAndGlyphs">0.0</text>
<text x="785.53" y="21.70" font-size="23.33" textLength="40.17" lengthAdjust="spacingAndGlyphs">ioa:</text>
<text x="833.60" y="21.70" font-size="23.33" textLength="34.34" lengthAdjust="spacingAndGlyphs">0.4</text>
<text x="883.00" y="21.70" font-size="23.33" textLength="53.74" lengthAdjust="spacingAndGlyphs">mse:</text>
<text x="944.91" y="21.70" font-size="23.33" textLength="34.08" lengthAdjust="spacingAndGlyphs">3.4</text>
<text x="994.24" y="21.70" font-size="23.33" textLength="29.64" lengthAdjust="spacingAndGlyphs">ss:</text>
<text x="1031.42" y="21.70" font-size="23.33" textLength="42.72" lengthAdjust="spacingAndGlyphs">-6.3</text>
<text x="1089.35" y="21.70" font-size="23.33" textLength="62.55" lengthAdjust="spacingAndGlyphs">rmse:</text>
<text x="1159.85" y="21.70" font-size="23.33" textLength="34.42" lengthAdjust="spacingAndGlyphs">1.9</text>
<text x="557.31" y="48.70" font-size="23.33" textLength="128.55" lengthAdjust="spacingAndGlyphs">2019-09-19</text>
<text x="693.72" y="48.70" font-size="23.33" textLength="40.70" lengthAdjust="spacingAndGlyphs">lon:</text>
<text x="741.76" y="48.70" font-size="23.33" textLength="85.41" lengthAdjust="spacingAndGlyphs">-152.20</text>
<text x="835.04" y="48.70" font-size="23.33" textLength="35.57" lengthAdjust="spacingAndGlyphs">lat:</text>
<text x="878.58" y="48.70" font-size="23.33" textLength="62.12" lengthAdjust="spacingAndGlyphs">59.31</text>
<text x="498.18" y="74.70" font-size="23.33" textLength="56.12" lengthAdjust="spacingAndGlyphs">Gwa:</text>
<text x="562.25" y="74.70" font-size="23.33" textLength="38.94" lengthAdjust="spacingAndGlyphs">Sea</text>
<text x="610.51" y="74.70" font-size="23.33" textLength="139.59" lengthAdjust="spacingAndGlyphs">temperature</text>
<text x="757.30" y="74.70" font-size="23.33" textLength="32.72" lengthAdjust="spacingAndGlyphs">[C]</text>
<text x="797.34" y="74.70" font-size="23.33" textLength="51.40" lengthAdjust="spacingAndGlyphs">from</text>
<text x="856.14" y="74.70" font-size="23.33" textLength="45.88" lengthAdjust="spacingAndGlyphs">CTD</text>
<text x="909.57" y="74.70" font-size="23.33" textLength="91.28" lengthAdjust="spacingAndGlyphs">transect</text>
</g>
</svg>
</body></html>
